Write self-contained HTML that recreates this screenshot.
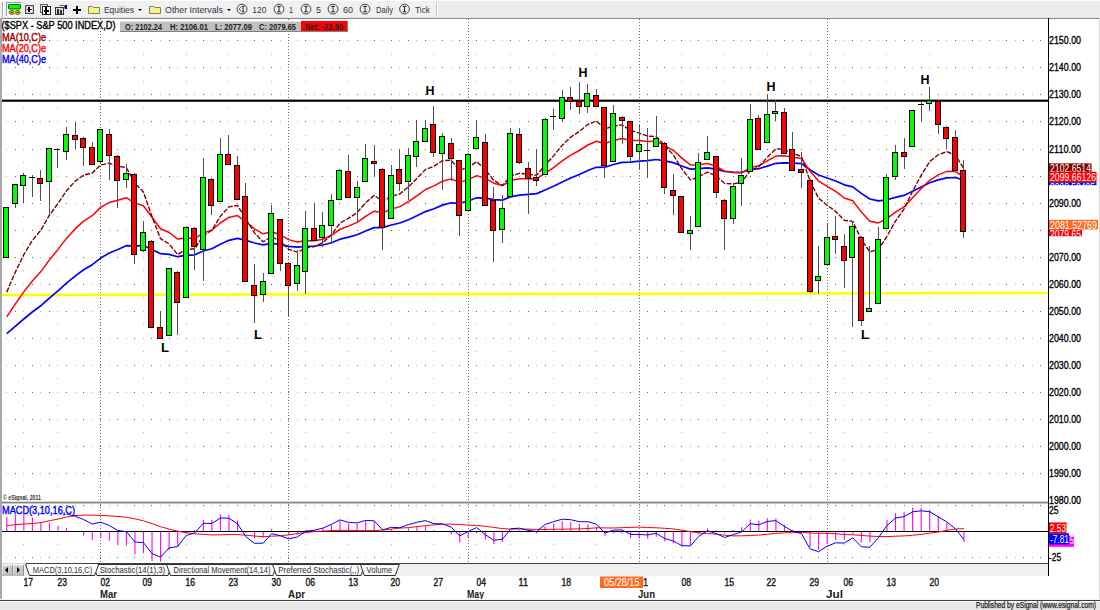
<!DOCTYPE html>
<html><head><meta charset="utf-8"><style>
html,body{margin:0;padding:0;background:#fff;overflow:hidden}
svg{display:block;font-family:"Liberation Sans", sans-serif}
</style></head><body>
<svg width="1100" height="610" viewBox="0 0 1100 610">
<rect x="0" y="0" width="1100" height="610" fill="#ffffff"/>
<rect x="0" y="0" width="1100" height="18" fill="#f0f0f0"/>
<rect x="436" y="0" width="664" height="18" fill="#ececec"/>
<rect x="0" y="0" width="1100" height="1" fill="#ffffff"/>
<rect x="0" y="17" width="1100" height="1" fill="#e4e4e4"/>
<rect x="0" y="18" width="1100" height="1" fill="#8a8a8a"/>
<rect x="436" y="2" width="1" height="15" fill="#c8c8c8"/>
<rect x="437" y="2" width="1" height="15" fill="#ffffff"/>
<rect x="0" y="18" width="2" height="592" fill="#a8a8a8"/>
<rect x="1099" y="18" width="1" height="582" fill="#d8d8d8"/>
<path d="M15 473h1 M32 473h1 M49 473h1 M66 473h1 M83 473h1 M100 473h1 M117 473h1 M134 473h1 M151 473h1 M169 473h1 M186 473h1 M203 473h1 M220 473h1 M237 473h1 M254 473h1 M271 473h1 M288 473h1 M305 473h1 M322 473h1 M339 473h1 M357 473h1 M374 473h1 M391 473h1 M408 473h1 M425 473h1 M442 473h1 M459 473h1 M476 473h1 M493 473h1 M510 473h1 M528 473h1 M545 473h1 M562 473h1 M579 473h1 M596 473h1 M613 473h1 M630 473h1 M647 473h1 M664 473h1 M681 473h1 M698 473h1 M716 473h1 M733 473h1 M750 473h1 M767 473h1 M784 473h1 M801 473h1 M818 473h1 M835 473h1 M852 473h1 M869 473h1 M886 473h1 M904 473h1 M921 473h1 M938 473h1 M955 473h1 M972 473h1 M989 473h1 M1006 473h1 M1023 473h1 M1040 473h1 M15 446h1 M32 446h1 M49 446h1 M66 446h1 M83 446h1 M100 446h1 M117 446h1 M134 446h1 M151 446h1 M169 446h1 M186 446h1 M203 446h1 M220 446h1 M237 446h1 M254 446h1 M271 446h1 M288 446h1 M305 446h1 M322 446h1 M339 446h1 M357 446h1 M374 446h1 M391 446h1 M408 446h1 M425 446h1 M442 446h1 M459 446h1 M476 446h1 M493 446h1 M510 446h1 M528 446h1 M545 446h1 M562 446h1 M579 446h1 M596 446h1 M613 446h1 M630 446h1 M647 446h1 M664 446h1 M681 446h1 M698 446h1 M716 446h1 M733 446h1 M750 446h1 M767 446h1 M784 446h1 M801 446h1 M818 446h1 M835 446h1 M852 446h1 M869 446h1 M886 446h1 M904 446h1 M921 446h1 M938 446h1 M955 446h1 M972 446h1 M989 446h1 M1006 446h1 M1023 446h1 M1040 446h1 M15 419h1 M32 419h1 M49 419h1 M66 419h1 M83 419h1 M100 419h1 M117 419h1 M134 419h1 M151 419h1 M169 419h1 M186 419h1 M203 419h1 M220 419h1 M237 419h1 M254 419h1 M271 419h1 M288 419h1 M305 419h1 M322 419h1 M339 419h1 M357 419h1 M374 419h1 M391 419h1 M408 419h1 M425 419h1 M442 419h1 M459 419h1 M476 419h1 M493 419h1 M510 419h1 M528 419h1 M545 419h1 M562 419h1 M579 419h1 M596 419h1 M613 419h1 M630 419h1 M647 419h1 M664 419h1 M681 419h1 M698 419h1 M716 419h1 M733 419h1 M750 419h1 M767 419h1 M784 419h1 M801 419h1 M818 419h1 M835 419h1 M852 419h1 M869 419h1 M886 419h1 M904 419h1 M921 419h1 M938 419h1 M955 419h1 M972 419h1 M989 419h1 M1006 419h1 M1023 419h1 M1040 419h1 M15 392h1 M32 392h1 M49 392h1 M66 392h1 M83 392h1 M100 392h1 M117 392h1 M134 392h1 M151 392h1 M169 392h1 M186 392h1 M203 392h1 M220 392h1 M237 392h1 M254 392h1 M271 392h1 M288 392h1 M305 392h1 M322 392h1 M339 392h1 M357 392h1 M374 392h1 M391 392h1 M408 392h1 M425 392h1 M442 392h1 M459 392h1 M476 392h1 M493 392h1 M510 392h1 M528 392h1 M545 392h1 M562 392h1 M579 392h1 M596 392h1 M613 392h1 M630 392h1 M647 392h1 M664 392h1 M681 392h1 M698 392h1 M716 392h1 M733 392h1 M750 392h1 M767 392h1 M784 392h1 M801 392h1 M818 392h1 M835 392h1 M852 392h1 M869 392h1 M886 392h1 M904 392h1 M921 392h1 M938 392h1 M955 392h1 M972 392h1 M989 392h1 M1006 392h1 M1023 392h1 M1040 392h1 M15 365h1 M32 365h1 M49 365h1 M66 365h1 M83 365h1 M100 365h1 M117 365h1 M134 365h1 M151 365h1 M169 365h1 M186 365h1 M203 365h1 M220 365h1 M237 365h1 M254 365h1 M271 365h1 M288 365h1 M305 365h1 M322 365h1 M339 365h1 M357 365h1 M374 365h1 M391 365h1 M408 365h1 M425 365h1 M442 365h1 M459 365h1 M476 365h1 M493 365h1 M510 365h1 M528 365h1 M545 365h1 M562 365h1 M579 365h1 M596 365h1 M613 365h1 M630 365h1 M647 365h1 M664 365h1 M681 365h1 M698 365h1 M716 365h1 M733 365h1 M750 365h1 M767 365h1 M784 365h1 M801 365h1 M818 365h1 M835 365h1 M852 365h1 M869 365h1 M886 365h1 M904 365h1 M921 365h1 M938 365h1 M955 365h1 M972 365h1 M989 365h1 M1006 365h1 M1023 365h1 M1040 365h1 M15 338h1 M32 338h1 M49 338h1 M66 338h1 M83 338h1 M100 338h1 M117 338h1 M134 338h1 M151 338h1 M169 338h1 M186 338h1 M203 338h1 M220 338h1 M237 338h1 M254 338h1 M271 338h1 M288 338h1 M305 338h1 M322 338h1 M339 338h1 M357 338h1 M374 338h1 M391 338h1 M408 338h1 M425 338h1 M442 338h1 M459 338h1 M476 338h1 M493 338h1 M510 338h1 M528 338h1 M545 338h1 M562 338h1 M579 338h1 M596 338h1 M613 338h1 M630 338h1 M647 338h1 M664 338h1 M681 338h1 M698 338h1 M716 338h1 M733 338h1 M750 338h1 M767 338h1 M784 338h1 M801 338h1 M818 338h1 M835 338h1 M852 338h1 M869 338h1 M886 338h1 M904 338h1 M921 338h1 M938 338h1 M955 338h1 M972 338h1 M989 338h1 M1006 338h1 M1023 338h1 M1040 338h1 M15 311h1 M32 311h1 M49 311h1 M66 311h1 M83 311h1 M100 311h1 M117 311h1 M134 311h1 M151 311h1 M169 311h1 M186 311h1 M203 311h1 M220 311h1 M237 311h1 M254 311h1 M271 311h1 M288 311h1 M305 311h1 M322 311h1 M339 311h1 M357 311h1 M374 311h1 M391 311h1 M408 311h1 M425 311h1 M442 311h1 M459 311h1 M476 311h1 M493 311h1 M510 311h1 M528 311h1 M545 311h1 M562 311h1 M579 311h1 M596 311h1 M613 311h1 M630 311h1 M647 311h1 M664 311h1 M681 311h1 M698 311h1 M716 311h1 M733 311h1 M750 311h1 M767 311h1 M784 311h1 M801 311h1 M818 311h1 M835 311h1 M852 311h1 M869 311h1 M886 311h1 M904 311h1 M921 311h1 M938 311h1 M955 311h1 M972 311h1 M989 311h1 M1006 311h1 M1023 311h1 M1040 311h1 M15 284h1 M32 284h1 M49 284h1 M66 284h1 M83 284h1 M100 284h1 M117 284h1 M134 284h1 M151 284h1 M169 284h1 M186 284h1 M203 284h1 M220 284h1 M237 284h1 M254 284h1 M271 284h1 M288 284h1 M305 284h1 M322 284h1 M339 284h1 M357 284h1 M374 284h1 M391 284h1 M408 284h1 M425 284h1 M442 284h1 M459 284h1 M476 284h1 M493 284h1 M510 284h1 M528 284h1 M545 284h1 M562 284h1 M579 284h1 M596 284h1 M613 284h1 M630 284h1 M647 284h1 M664 284h1 M681 284h1 M698 284h1 M716 284h1 M733 284h1 M750 284h1 M767 284h1 M784 284h1 M801 284h1 M818 284h1 M835 284h1 M852 284h1 M869 284h1 M886 284h1 M904 284h1 M921 284h1 M938 284h1 M955 284h1 M972 284h1 M989 284h1 M1006 284h1 M1023 284h1 M1040 284h1 M15 257h1 M32 257h1 M49 257h1 M66 257h1 M83 257h1 M100 257h1 M117 257h1 M134 257h1 M151 257h1 M169 257h1 M186 257h1 M203 257h1 M220 257h1 M237 257h1 M254 257h1 M271 257h1 M288 257h1 M305 257h1 M322 257h1 M339 257h1 M357 257h1 M374 257h1 M391 257h1 M408 257h1 M425 257h1 M442 257h1 M459 257h1 M476 257h1 M493 257h1 M510 257h1 M528 257h1 M545 257h1 M562 257h1 M579 257h1 M596 257h1 M613 257h1 M630 257h1 M647 257h1 M664 257h1 M681 257h1 M698 257h1 M716 257h1 M733 257h1 M750 257h1 M767 257h1 M784 257h1 M801 257h1 M818 257h1 M835 257h1 M852 257h1 M869 257h1 M886 257h1 M904 257h1 M921 257h1 M938 257h1 M955 257h1 M972 257h1 M989 257h1 M1006 257h1 M1023 257h1 M1040 257h1 M15 230h1 M32 230h1 M49 230h1 M66 230h1 M83 230h1 M100 230h1 M117 230h1 M134 230h1 M151 230h1 M169 230h1 M186 230h1 M203 230h1 M220 230h1 M237 230h1 M254 230h1 M271 230h1 M288 230h1 M305 230h1 M322 230h1 M339 230h1 M357 230h1 M374 230h1 M391 230h1 M408 230h1 M425 230h1 M442 230h1 M459 230h1 M476 230h1 M493 230h1 M510 230h1 M528 230h1 M545 230h1 M562 230h1 M579 230h1 M596 230h1 M613 230h1 M630 230h1 M647 230h1 M664 230h1 M681 230h1 M698 230h1 M716 230h1 M733 230h1 M750 230h1 M767 230h1 M784 230h1 M801 230h1 M818 230h1 M835 230h1 M852 230h1 M869 230h1 M886 230h1 M904 230h1 M921 230h1 M938 230h1 M955 230h1 M972 230h1 M989 230h1 M1006 230h1 M1023 230h1 M1040 230h1 M15 203h1 M32 203h1 M49 203h1 M66 203h1 M83 203h1 M100 203h1 M117 203h1 M134 203h1 M151 203h1 M169 203h1 M186 203h1 M203 203h1 M220 203h1 M237 203h1 M254 203h1 M271 203h1 M288 203h1 M305 203h1 M322 203h1 M339 203h1 M357 203h1 M374 203h1 M391 203h1 M408 203h1 M425 203h1 M442 203h1 M459 203h1 M476 203h1 M493 203h1 M510 203h1 M528 203h1 M545 203h1 M562 203h1 M579 203h1 M596 203h1 M613 203h1 M630 203h1 M647 203h1 M664 203h1 M681 203h1 M698 203h1 M716 203h1 M733 203h1 M750 203h1 M767 203h1 M784 203h1 M801 203h1 M818 203h1 M835 203h1 M852 203h1 M869 203h1 M886 203h1 M904 203h1 M921 203h1 M938 203h1 M955 203h1 M972 203h1 M989 203h1 M1006 203h1 M1023 203h1 M1040 203h1 M15 176h1 M32 176h1 M49 176h1 M66 176h1 M83 176h1 M100 176h1 M117 176h1 M134 176h1 M151 176h1 M169 176h1 M186 176h1 M203 176h1 M220 176h1 M237 176h1 M254 176h1 M271 176h1 M288 176h1 M305 176h1 M322 176h1 M339 176h1 M357 176h1 M374 176h1 M391 176h1 M408 176h1 M425 176h1 M442 176h1 M459 176h1 M476 176h1 M493 176h1 M510 176h1 M528 176h1 M545 176h1 M562 176h1 M579 176h1 M596 176h1 M613 176h1 M630 176h1 M647 176h1 M664 176h1 M681 176h1 M698 176h1 M716 176h1 M733 176h1 M750 176h1 M767 176h1 M784 176h1 M801 176h1 M818 176h1 M835 176h1 M852 176h1 M869 176h1 M886 176h1 M904 176h1 M921 176h1 M938 176h1 M955 176h1 M972 176h1 M989 176h1 M1006 176h1 M1023 176h1 M1040 176h1 M15 149h1 M32 149h1 M49 149h1 M66 149h1 M83 149h1 M100 149h1 M117 149h1 M134 149h1 M151 149h1 M169 149h1 M186 149h1 M203 149h1 M220 149h1 M237 149h1 M254 149h1 M271 149h1 M288 149h1 M305 149h1 M322 149h1 M339 149h1 M357 149h1 M374 149h1 M391 149h1 M408 149h1 M425 149h1 M442 149h1 M459 149h1 M476 149h1 M493 149h1 M510 149h1 M528 149h1 M545 149h1 M562 149h1 M579 149h1 M596 149h1 M613 149h1 M630 149h1 M647 149h1 M664 149h1 M681 149h1 M698 149h1 M716 149h1 M733 149h1 M750 149h1 M767 149h1 M784 149h1 M801 149h1 M818 149h1 M835 149h1 M852 149h1 M869 149h1 M886 149h1 M904 149h1 M921 149h1 M938 149h1 M955 149h1 M972 149h1 M989 149h1 M1006 149h1 M1023 149h1 M1040 149h1 M15 121h1 M32 121h1 M49 121h1 M66 121h1 M83 121h1 M100 121h1 M117 121h1 M134 121h1 M151 121h1 M169 121h1 M186 121h1 M203 121h1 M220 121h1 M237 121h1 M254 121h1 M271 121h1 M288 121h1 M305 121h1 M322 121h1 M339 121h1 M357 121h1 M374 121h1 M391 121h1 M408 121h1 M425 121h1 M442 121h1 M459 121h1 M476 121h1 M493 121h1 M510 121h1 M528 121h1 M545 121h1 M562 121h1 M579 121h1 M596 121h1 M613 121h1 M630 121h1 M647 121h1 M664 121h1 M681 121h1 M698 121h1 M716 121h1 M733 121h1 M750 121h1 M767 121h1 M784 121h1 M801 121h1 M818 121h1 M835 121h1 M852 121h1 M869 121h1 M886 121h1 M904 121h1 M921 121h1 M938 121h1 M955 121h1 M972 121h1 M989 121h1 M1006 121h1 M1023 121h1 M1040 121h1 M15 94h1 M32 94h1 M49 94h1 M66 94h1 M83 94h1 M100 94h1 M117 94h1 M134 94h1 M151 94h1 M169 94h1 M186 94h1 M203 94h1 M220 94h1 M237 94h1 M254 94h1 M271 94h1 M288 94h1 M305 94h1 M322 94h1 M339 94h1 M357 94h1 M374 94h1 M391 94h1 M408 94h1 M425 94h1 M442 94h1 M459 94h1 M476 94h1 M493 94h1 M510 94h1 M528 94h1 M545 94h1 M562 94h1 M579 94h1 M596 94h1 M613 94h1 M630 94h1 M647 94h1 M664 94h1 M681 94h1 M698 94h1 M716 94h1 M733 94h1 M750 94h1 M767 94h1 M784 94h1 M801 94h1 M818 94h1 M835 94h1 M852 94h1 M869 94h1 M886 94h1 M904 94h1 M921 94h1 M938 94h1 M955 94h1 M972 94h1 M989 94h1 M1006 94h1 M1023 94h1 M1040 94h1 M15 67h1 M32 67h1 M49 67h1 M66 67h1 M83 67h1 M100 67h1 M117 67h1 M134 67h1 M151 67h1 M169 67h1 M186 67h1 M203 67h1 M220 67h1 M237 67h1 M254 67h1 M271 67h1 M288 67h1 M305 67h1 M322 67h1 M339 67h1 M357 67h1 M374 67h1 M391 67h1 M408 67h1 M425 67h1 M442 67h1 M459 67h1 M476 67h1 M493 67h1 M510 67h1 M528 67h1 M545 67h1 M562 67h1 M579 67h1 M596 67h1 M613 67h1 M630 67h1 M647 67h1 M664 67h1 M681 67h1 M698 67h1 M716 67h1 M733 67h1 M750 67h1 M767 67h1 M784 67h1 M801 67h1 M818 67h1 M835 67h1 M852 67h1 M869 67h1 M886 67h1 M904 67h1 M921 67h1 M938 67h1 M955 67h1 M972 67h1 M989 67h1 M1006 67h1 M1023 67h1 M1040 67h1 M15 40h1 M32 40h1 M49 40h1 M66 40h1 M83 40h1 M100 40h1 M117 40h1 M134 40h1 M151 40h1 M169 40h1 M186 40h1 M203 40h1 M220 40h1 M237 40h1 M254 40h1 M271 40h1 M288 40h1 M305 40h1 M322 40h1 M339 40h1 M357 40h1 M374 40h1 M391 40h1 M408 40h1 M425 40h1 M442 40h1 M459 40h1 M476 40h1 M493 40h1 M510 40h1 M528 40h1 M545 40h1 M562 40h1 M579 40h1 M596 40h1 M613 40h1 M630 40h1 M647 40h1 M664 40h1 M681 40h1 M698 40h1 M716 40h1 M733 40h1 M750 40h1 M767 40h1 M784 40h1 M801 40h1 M818 40h1 M835 40h1 M852 40h1 M869 40h1 M886 40h1 M904 40h1 M921 40h1 M938 40h1 M955 40h1 M972 40h1 M989 40h1 M1006 40h1 M1023 40h1 M1040 40h1 M15 505h1 M32 505h1 M49 505h1 M66 505h1 M83 505h1 M100 505h1 M117 505h1 M134 505h1 M151 505h1 M169 505h1 M186 505h1 M203 505h1 M220 505h1 M237 505h1 M254 505h1 M271 505h1 M288 505h1 M305 505h1 M322 505h1 M339 505h1 M357 505h1 M374 505h1 M391 505h1 M408 505h1 M425 505h1 M442 505h1 M459 505h1 M476 505h1 M493 505h1 M510 505h1 M528 505h1 M545 505h1 M562 505h1 M579 505h1 M596 505h1 M613 505h1 M630 505h1 M647 505h1 M664 505h1 M681 505h1 M698 505h1 M716 505h1 M733 505h1 M750 505h1 M767 505h1 M784 505h1 M801 505h1 M818 505h1 M835 505h1 M852 505h1 M869 505h1 M886 505h1 M904 505h1 M921 505h1 M938 505h1 M955 505h1 M972 505h1 M989 505h1 M1006 505h1 M1023 505h1 M1040 505h1 M15 557h1 M32 557h1 M49 557h1 M66 557h1 M83 557h1 M100 557h1 M117 557h1 M134 557h1 M151 557h1 M169 557h1 M186 557h1 M203 557h1 M220 557h1 M237 557h1 M254 557h1 M271 557h1 M288 557h1 M305 557h1 M322 557h1 M339 557h1 M357 557h1 M374 557h1 M391 557h1 M408 557h1 M425 557h1 M442 557h1 M459 557h1 M476 557h1 M493 557h1 M510 557h1 M528 557h1 M545 557h1 M562 557h1 M579 557h1 M596 557h1 M613 557h1 M630 557h1 M647 557h1 M664 557h1 M681 557h1 M698 557h1 M716 557h1 M733 557h1 M750 557h1 M767 557h1 M784 557h1 M801 557h1 M818 557h1 M835 557h1 M852 557h1 M869 557h1 M886 557h1 M904 557h1 M921 557h1 M938 557h1 M955 557h1 M972 557h1 M989 557h1 M1006 557h1 M1023 557h1 M1040 557h1" stroke="#646464" stroke-width="1" fill="none" transform="translate(0,0.5)" shape-rendering="crispEdges"/>
<path d="M6 473h1 M23 473h1 M40 473h1 M57 473h1 M75 473h1 M92 473h1 M109 473h1 M126 473h1 M143 473h1 M160 473h1 M177 473h1 M194 473h1 M211 473h1 M228 473h1 M245 473h1 M263 473h1 M280 473h1 M297 473h1 M314 473h1 M331 473h1 M348 473h1 M365 473h1 M382 473h1 M399 473h1 M416 473h1 M433 473h1 M451 473h1 M468 473h1 M485 473h1 M502 473h1 M519 473h1 M536 473h1 M553 473h1 M570 473h1 M587 473h1 M604 473h1 M622 473h1 M639 473h1 M656 473h1 M673 473h1 M690 473h1 M707 473h1 M724 473h1 M741 473h1 M758 473h1 M775 473h1 M792 473h1 M810 473h1 M827 473h1 M844 473h1 M861 473h1 M878 473h1 M895 473h1 M912 473h1 M929 473h1 M946 473h1 M963 473h1 M980 473h1 M998 473h1 M1015 473h1 M1032 473h1 M6 446h1 M23 446h1 M40 446h1 M57 446h1 M75 446h1 M92 446h1 M109 446h1 M126 446h1 M143 446h1 M160 446h1 M177 446h1 M194 446h1 M211 446h1 M228 446h1 M245 446h1 M263 446h1 M280 446h1 M297 446h1 M314 446h1 M331 446h1 M348 446h1 M365 446h1 M382 446h1 M399 446h1 M416 446h1 M433 446h1 M451 446h1 M468 446h1 M485 446h1 M502 446h1 M519 446h1 M536 446h1 M553 446h1 M570 446h1 M587 446h1 M604 446h1 M622 446h1 M639 446h1 M656 446h1 M673 446h1 M690 446h1 M707 446h1 M724 446h1 M741 446h1 M758 446h1 M775 446h1 M792 446h1 M810 446h1 M827 446h1 M844 446h1 M861 446h1 M878 446h1 M895 446h1 M912 446h1 M929 446h1 M946 446h1 M963 446h1 M980 446h1 M998 446h1 M1015 446h1 M1032 446h1 M6 419h1 M23 419h1 M40 419h1 M57 419h1 M75 419h1 M92 419h1 M109 419h1 M126 419h1 M143 419h1 M160 419h1 M177 419h1 M194 419h1 M211 419h1 M228 419h1 M245 419h1 M263 419h1 M280 419h1 M297 419h1 M314 419h1 M331 419h1 M348 419h1 M365 419h1 M382 419h1 M399 419h1 M416 419h1 M433 419h1 M451 419h1 M468 419h1 M485 419h1 M502 419h1 M519 419h1 M536 419h1 M553 419h1 M570 419h1 M587 419h1 M604 419h1 M622 419h1 M639 419h1 M656 419h1 M673 419h1 M690 419h1 M707 419h1 M724 419h1 M741 419h1 M758 419h1 M775 419h1 M792 419h1 M810 419h1 M827 419h1 M844 419h1 M861 419h1 M878 419h1 M895 419h1 M912 419h1 M929 419h1 M946 419h1 M963 419h1 M980 419h1 M998 419h1 M1015 419h1 M1032 419h1 M6 392h1 M23 392h1 M40 392h1 M57 392h1 M75 392h1 M92 392h1 M109 392h1 M126 392h1 M143 392h1 M160 392h1 M177 392h1 M194 392h1 M211 392h1 M228 392h1 M245 392h1 M263 392h1 M280 392h1 M297 392h1 M314 392h1 M331 392h1 M348 392h1 M365 392h1 M382 392h1 M399 392h1 M416 392h1 M433 392h1 M451 392h1 M468 392h1 M485 392h1 M502 392h1 M519 392h1 M536 392h1 M553 392h1 M570 392h1 M587 392h1 M604 392h1 M622 392h1 M639 392h1 M656 392h1 M673 392h1 M690 392h1 M707 392h1 M724 392h1 M741 392h1 M758 392h1 M775 392h1 M792 392h1 M810 392h1 M827 392h1 M844 392h1 M861 392h1 M878 392h1 M895 392h1 M912 392h1 M929 392h1 M946 392h1 M963 392h1 M980 392h1 M998 392h1 M1015 392h1 M1032 392h1 M6 365h1 M23 365h1 M40 365h1 M57 365h1 M75 365h1 M92 365h1 M109 365h1 M126 365h1 M143 365h1 M160 365h1 M177 365h1 M194 365h1 M211 365h1 M228 365h1 M245 365h1 M263 365h1 M280 365h1 M297 365h1 M314 365h1 M331 365h1 M348 365h1 M365 365h1 M382 365h1 M399 365h1 M416 365h1 M433 365h1 M451 365h1 M468 365h1 M485 365h1 M502 365h1 M519 365h1 M536 365h1 M553 365h1 M570 365h1 M587 365h1 M604 365h1 M622 365h1 M639 365h1 M656 365h1 M673 365h1 M690 365h1 M707 365h1 M724 365h1 M741 365h1 M758 365h1 M775 365h1 M792 365h1 M810 365h1 M827 365h1 M844 365h1 M861 365h1 M878 365h1 M895 365h1 M912 365h1 M929 365h1 M946 365h1 M963 365h1 M980 365h1 M998 365h1 M1015 365h1 M1032 365h1 M6 338h1 M23 338h1 M40 338h1 M57 338h1 M75 338h1 M92 338h1 M109 338h1 M126 338h1 M143 338h1 M160 338h1 M177 338h1 M194 338h1 M211 338h1 M228 338h1 M245 338h1 M263 338h1 M280 338h1 M297 338h1 M314 338h1 M331 338h1 M348 338h1 M365 338h1 M382 338h1 M399 338h1 M416 338h1 M433 338h1 M451 338h1 M468 338h1 M485 338h1 M502 338h1 M519 338h1 M536 338h1 M553 338h1 M570 338h1 M587 338h1 M604 338h1 M622 338h1 M639 338h1 M656 338h1 M673 338h1 M690 338h1 M707 338h1 M724 338h1 M741 338h1 M758 338h1 M775 338h1 M792 338h1 M810 338h1 M827 338h1 M844 338h1 M861 338h1 M878 338h1 M895 338h1 M912 338h1 M929 338h1 M946 338h1 M963 338h1 M980 338h1 M998 338h1 M1015 338h1 M1032 338h1 M6 311h1 M23 311h1 M40 311h1 M57 311h1 M75 311h1 M92 311h1 M109 311h1 M126 311h1 M143 311h1 M160 311h1 M177 311h1 M194 311h1 M211 311h1 M228 311h1 M245 311h1 M263 311h1 M280 311h1 M297 311h1 M314 311h1 M331 311h1 M348 311h1 M365 311h1 M382 311h1 M399 311h1 M416 311h1 M433 311h1 M451 311h1 M468 311h1 M485 311h1 M502 311h1 M519 311h1 M536 311h1 M553 311h1 M570 311h1 M587 311h1 M604 311h1 M622 311h1 M639 311h1 M656 311h1 M673 311h1 M690 311h1 M707 311h1 M724 311h1 M741 311h1 M758 311h1 M775 311h1 M792 311h1 M810 311h1 M827 311h1 M844 311h1 M861 311h1 M878 311h1 M895 311h1 M912 311h1 M929 311h1 M946 311h1 M963 311h1 M980 311h1 M998 311h1 M1015 311h1 M1032 311h1 M6 284h1 M23 284h1 M40 284h1 M57 284h1 M75 284h1 M92 284h1 M109 284h1 M126 284h1 M143 284h1 M160 284h1 M177 284h1 M194 284h1 M211 284h1 M228 284h1 M245 284h1 M263 284h1 M280 284h1 M297 284h1 M314 284h1 M331 284h1 M348 284h1 M365 284h1 M382 284h1 M399 284h1 M416 284h1 M433 284h1 M451 284h1 M468 284h1 M485 284h1 M502 284h1 M519 284h1 M536 284h1 M553 284h1 M570 284h1 M587 284h1 M604 284h1 M622 284h1 M639 284h1 M656 284h1 M673 284h1 M690 284h1 M707 284h1 M724 284h1 M741 284h1 M758 284h1 M775 284h1 M792 284h1 M810 284h1 M827 284h1 M844 284h1 M861 284h1 M878 284h1 M895 284h1 M912 284h1 M929 284h1 M946 284h1 M963 284h1 M980 284h1 M998 284h1 M1015 284h1 M1032 284h1 M6 257h1 M23 257h1 M40 257h1 M57 257h1 M75 257h1 M92 257h1 M109 257h1 M126 257h1 M143 257h1 M160 257h1 M177 257h1 M194 257h1 M211 257h1 M228 257h1 M245 257h1 M263 257h1 M280 257h1 M297 257h1 M314 257h1 M331 257h1 M348 257h1 M365 257h1 M382 257h1 M399 257h1 M416 257h1 M433 257h1 M451 257h1 M468 257h1 M485 257h1 M502 257h1 M519 257h1 M536 257h1 M553 257h1 M570 257h1 M587 257h1 M604 257h1 M622 257h1 M639 257h1 M656 257h1 M673 257h1 M690 257h1 M707 257h1 M724 257h1 M741 257h1 M758 257h1 M775 257h1 M792 257h1 M810 257h1 M827 257h1 M844 257h1 M861 257h1 M878 257h1 M895 257h1 M912 257h1 M929 257h1 M946 257h1 M963 257h1 M980 257h1 M998 257h1 M1015 257h1 M1032 257h1 M6 230h1 M23 230h1 M40 230h1 M57 230h1 M75 230h1 M92 230h1 M109 230h1 M126 230h1 M143 230h1 M160 230h1 M177 230h1 M194 230h1 M211 230h1 M228 230h1 M245 230h1 M263 230h1 M280 230h1 M297 230h1 M314 230h1 M331 230h1 M348 230h1 M365 230h1 M382 230h1 M399 230h1 M416 230h1 M433 230h1 M451 230h1 M468 230h1 M485 230h1 M502 230h1 M519 230h1 M536 230h1 M553 230h1 M570 230h1 M587 230h1 M604 230h1 M622 230h1 M639 230h1 M656 230h1 M673 230h1 M690 230h1 M707 230h1 M724 230h1 M741 230h1 M758 230h1 M775 230h1 M792 230h1 M810 230h1 M827 230h1 M844 230h1 M861 230h1 M878 230h1 M895 230h1 M912 230h1 M929 230h1 M946 230h1 M963 230h1 M980 230h1 M998 230h1 M1015 230h1 M1032 230h1 M6 203h1 M23 203h1 M40 203h1 M57 203h1 M75 203h1 M92 203h1 M109 203h1 M126 203h1 M143 203h1 M160 203h1 M177 203h1 M194 203h1 M211 203h1 M228 203h1 M245 203h1 M263 203h1 M280 203h1 M297 203h1 M314 203h1 M331 203h1 M348 203h1 M365 203h1 M382 203h1 M399 203h1 M416 203h1 M433 203h1 M451 203h1 M468 203h1 M485 203h1 M502 203h1 M519 203h1 M536 203h1 M553 203h1 M570 203h1 M587 203h1 M604 203h1 M622 203h1 M639 203h1 M656 203h1 M673 203h1 M690 203h1 M707 203h1 M724 203h1 M741 203h1 M758 203h1 M775 203h1 M792 203h1 M810 203h1 M827 203h1 M844 203h1 M861 203h1 M878 203h1 M895 203h1 M912 203h1 M929 203h1 M946 203h1 M963 203h1 M980 203h1 M998 203h1 M1015 203h1 M1032 203h1 M6 176h1 M23 176h1 M40 176h1 M57 176h1 M75 176h1 M92 176h1 M109 176h1 M126 176h1 M143 176h1 M160 176h1 M177 176h1 M194 176h1 M211 176h1 M228 176h1 M245 176h1 M263 176h1 M280 176h1 M297 176h1 M314 176h1 M331 176h1 M348 176h1 M365 176h1 M382 176h1 M399 176h1 M416 176h1 M433 176h1 M451 176h1 M468 176h1 M485 176h1 M502 176h1 M519 176h1 M536 176h1 M553 176h1 M570 176h1 M587 176h1 M604 176h1 M622 176h1 M639 176h1 M656 176h1 M673 176h1 M690 176h1 M707 176h1 M724 176h1 M741 176h1 M758 176h1 M775 176h1 M792 176h1 M810 176h1 M827 176h1 M844 176h1 M861 176h1 M878 176h1 M895 176h1 M912 176h1 M929 176h1 M946 176h1 M963 176h1 M980 176h1 M998 176h1 M1015 176h1 M1032 176h1 M6 149h1 M23 149h1 M40 149h1 M57 149h1 M75 149h1 M92 149h1 M109 149h1 M126 149h1 M143 149h1 M160 149h1 M177 149h1 M194 149h1 M211 149h1 M228 149h1 M245 149h1 M263 149h1 M280 149h1 M297 149h1 M314 149h1 M331 149h1 M348 149h1 M365 149h1 M382 149h1 M399 149h1 M416 149h1 M433 149h1 M451 149h1 M468 149h1 M485 149h1 M502 149h1 M519 149h1 M536 149h1 M553 149h1 M570 149h1 M587 149h1 M604 149h1 M622 149h1 M639 149h1 M656 149h1 M673 149h1 M690 149h1 M707 149h1 M724 149h1 M741 149h1 M758 149h1 M775 149h1 M792 149h1 M810 149h1 M827 149h1 M844 149h1 M861 149h1 M878 149h1 M895 149h1 M912 149h1 M929 149h1 M946 149h1 M963 149h1 M980 149h1 M998 149h1 M1015 149h1 M1032 149h1 M6 121h1 M23 121h1 M40 121h1 M57 121h1 M75 121h1 M92 121h1 M109 121h1 M126 121h1 M143 121h1 M160 121h1 M177 121h1 M194 121h1 M211 121h1 M228 121h1 M245 121h1 M263 121h1 M280 121h1 M297 121h1 M314 121h1 M331 121h1 M348 121h1 M365 121h1 M382 121h1 M399 121h1 M416 121h1 M433 121h1 M451 121h1 M468 121h1 M485 121h1 M502 121h1 M519 121h1 M536 121h1 M553 121h1 M570 121h1 M587 121h1 M604 121h1 M622 121h1 M639 121h1 M656 121h1 M673 121h1 M690 121h1 M707 121h1 M724 121h1 M741 121h1 M758 121h1 M775 121h1 M792 121h1 M810 121h1 M827 121h1 M844 121h1 M861 121h1 M878 121h1 M895 121h1 M912 121h1 M929 121h1 M946 121h1 M963 121h1 M980 121h1 M998 121h1 M1015 121h1 M1032 121h1 M6 94h1 M23 94h1 M40 94h1 M57 94h1 M75 94h1 M92 94h1 M109 94h1 M126 94h1 M143 94h1 M160 94h1 M177 94h1 M194 94h1 M211 94h1 M228 94h1 M245 94h1 M263 94h1 M280 94h1 M297 94h1 M314 94h1 M331 94h1 M348 94h1 M365 94h1 M382 94h1 M399 94h1 M416 94h1 M433 94h1 M451 94h1 M468 94h1 M485 94h1 M502 94h1 M519 94h1 M536 94h1 M553 94h1 M570 94h1 M587 94h1 M604 94h1 M622 94h1 M639 94h1 M656 94h1 M673 94h1 M690 94h1 M707 94h1 M724 94h1 M741 94h1 M758 94h1 M775 94h1 M792 94h1 M810 94h1 M827 94h1 M844 94h1 M861 94h1 M878 94h1 M895 94h1 M912 94h1 M929 94h1 M946 94h1 M963 94h1 M980 94h1 M998 94h1 M1015 94h1 M1032 94h1 M6 67h1 M23 67h1 M40 67h1 M57 67h1 M75 67h1 M92 67h1 M109 67h1 M126 67h1 M143 67h1 M160 67h1 M177 67h1 M194 67h1 M211 67h1 M228 67h1 M245 67h1 M263 67h1 M280 67h1 M297 67h1 M314 67h1 M331 67h1 M348 67h1 M365 67h1 M382 67h1 M399 67h1 M416 67h1 M433 67h1 M451 67h1 M468 67h1 M485 67h1 M502 67h1 M519 67h1 M536 67h1 M553 67h1 M570 67h1 M587 67h1 M604 67h1 M622 67h1 M639 67h1 M656 67h1 M673 67h1 M690 67h1 M707 67h1 M724 67h1 M741 67h1 M758 67h1 M775 67h1 M792 67h1 M810 67h1 M827 67h1 M844 67h1 M861 67h1 M878 67h1 M895 67h1 M912 67h1 M929 67h1 M946 67h1 M963 67h1 M980 67h1 M998 67h1 M1015 67h1 M1032 67h1 M6 40h1 M23 40h1 M40 40h1 M57 40h1 M75 40h1 M92 40h1 M109 40h1 M126 40h1 M143 40h1 M160 40h1 M177 40h1 M194 40h1 M211 40h1 M228 40h1 M245 40h1 M263 40h1 M280 40h1 M297 40h1 M314 40h1 M331 40h1 M348 40h1 M365 40h1 M382 40h1 M399 40h1 M416 40h1 M433 40h1 M451 40h1 M468 40h1 M485 40h1 M502 40h1 M519 40h1 M536 40h1 M553 40h1 M570 40h1 M587 40h1 M604 40h1 M622 40h1 M639 40h1 M656 40h1 M673 40h1 M690 40h1 M707 40h1 M724 40h1 M741 40h1 M758 40h1 M775 40h1 M792 40h1 M810 40h1 M827 40h1 M844 40h1 M861 40h1 M878 40h1 M895 40h1 M912 40h1 M929 40h1 M946 40h1 M963 40h1 M980 40h1 M998 40h1 M1015 40h1 M1032 40h1 M23 486h1 M57 486h1 M100 486h1 M143 486h1 M186 486h1 M228 486h1 M271 486h1 M305 486h1 M348 486h1 M391 486h1 M433 486h1 M476 486h1 M510 486h1 M553 486h1 M596 486h1 M639 486h1 M681 486h1 M724 486h1 M767 486h1 M810 486h1 M844 486h1 M886 486h1 M929 486h1 M23 459h1 M57 459h1 M100 459h1 M143 459h1 M186 459h1 M228 459h1 M271 459h1 M305 459h1 M348 459h1 M391 459h1 M433 459h1 M476 459h1 M510 459h1 M553 459h1 M596 459h1 M639 459h1 M681 459h1 M724 459h1 M767 459h1 M810 459h1 M844 459h1 M886 459h1 M929 459h1 M23 432h1 M57 432h1 M100 432h1 M143 432h1 M186 432h1 M228 432h1 M271 432h1 M305 432h1 M348 432h1 M391 432h1 M433 432h1 M476 432h1 M510 432h1 M553 432h1 M596 432h1 M639 432h1 M681 432h1 M724 432h1 M767 432h1 M810 432h1 M844 432h1 M886 432h1 M929 432h1 M23 405h1 M57 405h1 M100 405h1 M143 405h1 M186 405h1 M228 405h1 M271 405h1 M305 405h1 M348 405h1 M391 405h1 M433 405h1 M476 405h1 M510 405h1 M553 405h1 M596 405h1 M639 405h1 M681 405h1 M724 405h1 M767 405h1 M810 405h1 M844 405h1 M886 405h1 M929 405h1 M23 378h1 M57 378h1 M100 378h1 M143 378h1 M186 378h1 M228 378h1 M271 378h1 M305 378h1 M348 378h1 M391 378h1 M433 378h1 M476 378h1 M510 378h1 M553 378h1 M596 378h1 M639 378h1 M681 378h1 M724 378h1 M767 378h1 M810 378h1 M844 378h1 M886 378h1 M929 378h1 M23 351h1 M57 351h1 M100 351h1 M143 351h1 M186 351h1 M228 351h1 M271 351h1 M305 351h1 M348 351h1 M391 351h1 M433 351h1 M476 351h1 M510 351h1 M553 351h1 M596 351h1 M639 351h1 M681 351h1 M724 351h1 M767 351h1 M810 351h1 M844 351h1 M886 351h1 M929 351h1 M23 324h1 M57 324h1 M100 324h1 M143 324h1 M186 324h1 M228 324h1 M271 324h1 M305 324h1 M348 324h1 M391 324h1 M433 324h1 M476 324h1 M510 324h1 M553 324h1 M596 324h1 M639 324h1 M681 324h1 M724 324h1 M767 324h1 M810 324h1 M844 324h1 M886 324h1 M929 324h1 M23 297h1 M57 297h1 M100 297h1 M143 297h1 M186 297h1 M228 297h1 M271 297h1 M305 297h1 M348 297h1 M391 297h1 M433 297h1 M476 297h1 M510 297h1 M553 297h1 M596 297h1 M639 297h1 M681 297h1 M724 297h1 M767 297h1 M810 297h1 M844 297h1 M886 297h1 M929 297h1 M23 270h1 M57 270h1 M100 270h1 M143 270h1 M186 270h1 M228 270h1 M271 270h1 M305 270h1 M348 270h1 M391 270h1 M433 270h1 M476 270h1 M510 270h1 M553 270h1 M596 270h1 M639 270h1 M681 270h1 M724 270h1 M767 270h1 M810 270h1 M844 270h1 M886 270h1 M929 270h1 M23 243h1 M57 243h1 M100 243h1 M143 243h1 M186 243h1 M228 243h1 M271 243h1 M305 243h1 M348 243h1 M391 243h1 M433 243h1 M476 243h1 M510 243h1 M553 243h1 M596 243h1 M639 243h1 M681 243h1 M724 243h1 M767 243h1 M810 243h1 M844 243h1 M886 243h1 M929 243h1 M23 216h1 M57 216h1 M100 216h1 M143 216h1 M186 216h1 M228 216h1 M271 216h1 M305 216h1 M348 216h1 M391 216h1 M433 216h1 M476 216h1 M510 216h1 M553 216h1 M596 216h1 M639 216h1 M681 216h1 M724 216h1 M767 216h1 M810 216h1 M844 216h1 M886 216h1 M929 216h1 M23 189h1 M57 189h1 M100 189h1 M143 189h1 M186 189h1 M228 189h1 M271 189h1 M305 189h1 M348 189h1 M391 189h1 M433 189h1 M476 189h1 M510 189h1 M553 189h1 M596 189h1 M639 189h1 M681 189h1 M724 189h1 M767 189h1 M810 189h1 M844 189h1 M886 189h1 M929 189h1 M23 162h1 M57 162h1 M100 162h1 M143 162h1 M186 162h1 M228 162h1 M271 162h1 M305 162h1 M348 162h1 M391 162h1 M433 162h1 M476 162h1 M510 162h1 M553 162h1 M596 162h1 M639 162h1 M681 162h1 M724 162h1 M767 162h1 M810 162h1 M844 162h1 M886 162h1 M929 162h1 M23 135h1 M57 135h1 M100 135h1 M143 135h1 M186 135h1 M228 135h1 M271 135h1 M305 135h1 M348 135h1 M391 135h1 M433 135h1 M476 135h1 M510 135h1 M553 135h1 M596 135h1 M639 135h1 M681 135h1 M724 135h1 M767 135h1 M810 135h1 M844 135h1 M886 135h1 M929 135h1 M23 108h1 M57 108h1 M100 108h1 M143 108h1 M186 108h1 M228 108h1 M271 108h1 M305 108h1 M348 108h1 M391 108h1 M433 108h1 M476 108h1 M510 108h1 M553 108h1 M596 108h1 M639 108h1 M681 108h1 M724 108h1 M767 108h1 M810 108h1 M844 108h1 M886 108h1 M929 108h1 M23 81h1 M57 81h1 M100 81h1 M143 81h1 M186 81h1 M228 81h1 M271 81h1 M305 81h1 M348 81h1 M391 81h1 M433 81h1 M476 81h1 M510 81h1 M553 81h1 M596 81h1 M639 81h1 M681 81h1 M724 81h1 M767 81h1 M810 81h1 M844 81h1 M886 81h1 M929 81h1 M23 54h1 M57 54h1 M100 54h1 M143 54h1 M186 54h1 M228 54h1 M271 54h1 M305 54h1 M348 54h1 M391 54h1 M433 54h1 M476 54h1 M510 54h1 M553 54h1 M596 54h1 M639 54h1 M681 54h1 M724 54h1 M767 54h1 M810 54h1 M844 54h1 M886 54h1 M929 54h1 M6 505h1 M23 505h1 M40 505h1 M57 505h1 M75 505h1 M92 505h1 M109 505h1 M126 505h1 M143 505h1 M160 505h1 M177 505h1 M194 505h1 M211 505h1 M228 505h1 M245 505h1 M263 505h1 M280 505h1 M297 505h1 M314 505h1 M331 505h1 M348 505h1 M365 505h1 M382 505h1 M399 505h1 M416 505h1 M433 505h1 M451 505h1 M468 505h1 M485 505h1 M502 505h1 M519 505h1 M536 505h1 M553 505h1 M570 505h1 M587 505h1 M604 505h1 M622 505h1 M639 505h1 M656 505h1 M673 505h1 M690 505h1 M707 505h1 M724 505h1 M741 505h1 M758 505h1 M775 505h1 M792 505h1 M810 505h1 M827 505h1 M844 505h1 M861 505h1 M878 505h1 M895 505h1 M912 505h1 M929 505h1 M946 505h1 M963 505h1 M980 505h1 M998 505h1 M1015 505h1 M1032 505h1 M6 557h1 M23 557h1 M40 557h1 M57 557h1 M75 557h1 M92 557h1 M109 557h1 M126 557h1 M143 557h1 M160 557h1 M177 557h1 M194 557h1 M211 557h1 M228 557h1 M245 557h1 M263 557h1 M280 557h1 M297 557h1 M314 557h1 M331 557h1 M348 557h1 M365 557h1 M382 557h1 M399 557h1 M416 557h1 M433 557h1 M451 557h1 M468 557h1 M485 557h1 M502 557h1 M519 557h1 M536 557h1 M553 557h1 M570 557h1 M587 557h1 M604 557h1 M622 557h1 M639 557h1 M656 557h1 M673 557h1 M690 557h1 M707 557h1 M724 557h1 M741 557h1 M758 557h1 M775 557h1 M792 557h1 M810 557h1 M827 557h1 M844 557h1 M861 557h1 M878 557h1 M895 557h1 M912 557h1 M929 557h1 M946 557h1 M963 557h1 M980 557h1 M998 557h1 M1015 557h1 M1032 557h1 M23 518h1 M57 518h1 M100 518h1 M143 518h1 M186 518h1 M228 518h1 M271 518h1 M305 518h1 M348 518h1 M391 518h1 M433 518h1 M476 518h1 M510 518h1 M553 518h1 M596 518h1 M639 518h1 M681 518h1 M724 518h1 M767 518h1 M810 518h1 M844 518h1 M886 518h1 M929 518h1 M23 544h1 M57 544h1 M100 544h1 M143 544h1 M186 544h1 M228 544h1 M271 544h1 M305 544h1 M348 544h1 M391 544h1 M433 544h1 M476 544h1 M510 544h1 M553 544h1 M596 544h1 M639 544h1 M681 544h1 M724 544h1 M767 544h1 M810 544h1 M844 544h1 M886 544h1 M929 544h1" stroke="#b8b8b8" stroke-width="1" fill="none" transform="translate(0,0.5)" shape-rendering="crispEdges"/>
<line x1="100.5" y1="19" x2="100.5" y2="501" stroke="#707070" stroke-width="1" stroke-dasharray="1,2" shape-rendering="crispEdges"/>
<line x1="100.5" y1="504" x2="100.5" y2="564" stroke="#707070" stroke-width="1" stroke-dasharray="1,2" shape-rendering="crispEdges"/>
<line x1="288.5" y1="19" x2="288.5" y2="501" stroke="#707070" stroke-width="1" stroke-dasharray="1,2" shape-rendering="crispEdges"/>
<line x1="288.5" y1="504" x2="288.5" y2="564" stroke="#707070" stroke-width="1" stroke-dasharray="1,2" shape-rendering="crispEdges"/>
<line x1="468.5" y1="19" x2="468.5" y2="501" stroke="#707070" stroke-width="1" stroke-dasharray="1,2" shape-rendering="crispEdges"/>
<line x1="468.5" y1="504" x2="468.5" y2="564" stroke="#707070" stroke-width="1" stroke-dasharray="1,2" shape-rendering="crispEdges"/>
<line x1="639.5" y1="19" x2="639.5" y2="501" stroke="#707070" stroke-width="1" stroke-dasharray="1,2" shape-rendering="crispEdges"/>
<line x1="639.5" y1="504" x2="639.5" y2="564" stroke="#707070" stroke-width="1" stroke-dasharray="1,2" shape-rendering="crispEdges"/>
<line x1="827.5" y1="19" x2="827.5" y2="501" stroke="#707070" stroke-width="1" stroke-dasharray="1,2" shape-rendering="crispEdges"/>
<line x1="827.5" y1="504" x2="827.5" y2="564" stroke="#707070" stroke-width="1" stroke-dasharray="1,2" shape-rendering="crispEdges"/>
<rect x="2" y="99.6" width="1046" height="2.2" fill="#000000"/>
<polygon points="2,293.8 1048,291.8 1048,294.3 2,296.3" fill="#ffff00"/>
<polyline points="6.7,333.6 15.2,326.3 23.8,319.0 32.3,312.0 40.9,305.7 49.4,298.1 58.0,290.8 66.5,283.2 75.1,276.1 83.6,269.8 92.2,264.7 100.7,258.1 109.3,253.0 117.8,249.5 126.3,245.7 134.9,246.1 143.4,245.4 152.0,249.4 160.5,253.7 169.1,254.4 177.6,256.7 186.2,255.3 194.7,254.8 203.3,251.0 211.8,248.8 220.3,244.2 228.9,240.3 237.4,238.3 246.0,240.4 254.5,243.0 263.1,244.9 271.6,243.3 280.2,244.3 288.7,246.3 297.3,247.2 305.8,246.3 314.4,246.0 322.9,245.0 331.4,242.8 340.0,239.2 348.5,237.1 357.1,234.7 365.6,231.0 374.2,227.6 382.7,227.6 391.3,225.0 399.8,223.0 408.4,219.7 416.9,215.8 425.5,211.6 434.0,208.7 442.5,205.1 451.1,202.8 459.6,203.4 468.2,201.0 476.7,197.8 485.3,198.2 493.8,199.7 502.4,200.1 510.9,196.8 519.5,195.1 528.0,194.3 536.6,193.6 545.1,190.0 553.6,186.3 562.2,182.0 570.7,178.0 579.3,174.5 587.8,170.5 596.4,167.3 604.9,167.2 613.5,164.5 622.0,162.4 630.6,162.1 639.1,161.2 647.6,160.7 656.2,159.5 664.7,160.9 673.3,162.6 681.8,166.0 690.4,169.1 698.9,168.7 707.5,167.9 716.0,169.1 724.6,171.5 733.1,172.2 741.7,172.3 750.2,169.7 758.7,168.7 767.3,166.1 775.8,163.3 784.4,162.8 792.9,163.2 801.5,163.6 810.0,169.8 818.6,175.0 827.1,178.0 835.7,181.0 844.2,184.8 852.8,186.9 861.3,193.4 869.8,199.0 878.4,200.9 886.9,199.8 895.5,197.4 904.0,195.4 912.6,191.3 921.1,187.0 929.7,182.7 938.2,179.9 946.8,177.8 955.3,177.5 963.9,180.1" fill="none" stroke="#0000ff" stroke-width="1.7" stroke-linejoin="round"/>
<polyline points="6.7,316.8 15.2,304.2 23.8,291.9 32.3,281.0 40.9,271.6 49.4,259.9 58.0,249.4 66.5,238.4 75.1,228.9 83.6,221.1 92.2,215.7 100.7,207.4 109.3,202.4 117.8,200.3 126.3,197.7 134.9,203.1 143.4,205.8 152.0,217.3 160.5,228.8 169.1,232.5 177.6,239.1 186.2,238.0 194.7,238.7 203.3,232.9 211.8,230.2 220.3,223.0 228.9,217.4 237.4,215.6 246.0,221.9 254.5,228.8 263.1,233.8 271.6,231.8 280.2,234.8 288.7,239.6 297.3,242.0 305.8,240.7 314.4,240.7 322.9,239.2 331.4,235.4 340.0,229.3 348.5,226.1 357.1,222.4 365.6,216.3 374.2,211.2 382.7,212.7 391.3,209.1 399.8,206.6 408.4,201.7 416.9,195.9 425.5,189.5 434.0,185.9 442.5,181.2 451.1,178.9 459.6,182.4 468.2,179.6 476.7,175.6 485.3,178.3 493.8,183.2 502.4,185.6 510.9,180.6 519.5,178.8 528.0,178.7 536.6,178.9 545.1,173.2 553.6,167.6 562.2,160.9 570.7,155.2 579.3,150.5 587.8,145.0 596.4,141.2 604.9,143.5 613.5,140.5 622.0,138.6 630.6,140.2 639.1,140.6 647.6,141.5 656.2,141.2 664.7,145.6 673.3,150.3 681.8,158.1 690.4,164.9 698.9,164.7 707.5,163.5 716.0,166.2 724.6,171.1 733.1,172.5 741.7,172.8 750.2,167.6 758.7,165.8 767.3,160.9 775.8,156.1 784.4,155.8 792.9,157.2 801.5,158.6 810.0,171.1 818.6,181.1 827.1,186.4 835.7,191.4 844.2,198.0 852.8,200.7 861.3,212.1 869.8,221.2 878.4,222.9 886.9,218.6 895.5,212.2 904.0,206.9 912.6,197.7 921.1,188.8 929.7,180.3 938.2,174.9 946.8,171.4 955.3,171.3 963.9,177.0" fill="none" stroke="#ff0000" stroke-width="1.5" stroke-linejoin="round"/>
<polyline points="6.7,292.1 15.2,272.4 23.8,254.7 32.3,240.6 40.9,230.1 49.4,215.2 58.0,203.4 66.5,190.8 75.1,181.3 83.6,175.1 92.2,173.0 100.7,165.0 109.3,163.2 117.8,166.3 126.3,167.5 134.9,183.2 143.4,192.0 152.0,216.6 160.5,238.6 169.1,243.9 177.6,254.5 186.2,249.5 194.7,248.8 203.3,235.8 211.8,230.2 220.3,216.4 228.9,206.9 237.4,205.4 246.0,219.2 254.5,232.9 263.1,241.8 271.6,236.6 280.2,241.3 288.7,249.3 297.3,252.2 305.8,247.9 314.4,246.5 322.9,242.6 331.4,234.8 340.0,223.1 348.5,218.3 357.1,212.6 365.6,202.7 374.2,195.4 382.7,201.1 391.3,196.4 399.8,194.0 408.4,186.8 416.9,178.5 425.5,169.4 434.0,166.2 442.5,160.7 451.1,160.2 459.6,170.2 468.2,167.2 476.7,161.7 485.3,169.5 493.8,180.4 502.4,185.5 510.9,175.9 519.5,173.3 528.0,174.2 536.6,175.3 545.1,165.1 553.6,155.9 562.2,145.2 570.7,137.1 579.3,131.5 587.8,124.5 596.4,121.0 604.9,129.0 613.5,126.0 622.0,124.9 630.6,130.5 639.1,133.1 647.6,136.2 656.2,136.5 664.7,145.7 673.3,154.8 681.8,168.8 690.4,179.9 698.9,176.6 707.5,172.2 716.0,175.8 724.6,183.5 733.1,183.9 741.7,182.3 750.2,170.7 758.7,166.8 767.3,157.2 775.8,148.8 784.4,149.5 792.9,153.2 801.5,156.6 810.0,181.0 818.6,198.2 827.1,205.3 835.7,211.4 844.2,220.3 852.8,221.4 861.3,239.4 869.8,251.8 878.4,249.5 886.9,236.4 895.5,221.0 904.0,209.2 912.6,191.2 921.1,175.4 929.7,161.6 938.2,154.8 946.8,151.7 955.3,155.1 963.9,168.9" fill="none" stroke="#800000" stroke-width="1.4" stroke-linejoin="round" stroke-dasharray="5,1.5"/>
<rect x="6" y="207" width="1" height="50" fill="#505050"/>
<rect x="3" y="207" width="6" height="51" fill="#000"/>
<rect x="4" y="208" width="4" height="49" fill="#00ff00"/>
<rect x="15" y="184" width="1" height="24" fill="#505050"/>
<rect x="12" y="184" width="6" height="20" fill="#000"/>
<rect x="13" y="185" width="4" height="18" fill="#00ff00"/>
<rect x="23" y="173" width="1" height="30" fill="#505050"/>
<rect x="20" y="175" width="6" height="11" fill="#000"/>
<rect x="21" y="176" width="4" height="9" fill="#00ff00"/>
<rect x="32" y="175" width="1" height="22" fill="#505050"/>
<rect x="29" y="177" width="6" height="1" fill="#000"/>
<rect x="40" y="170" width="1" height="31" fill="#505050"/>
<rect x="37" y="178" width="6" height="6" fill="#000"/>
<rect x="38" y="179" width="4" height="4" fill="#ff0000"/>
<rect x="49" y="148" width="1" height="66" fill="#505050"/>
<rect x="46" y="148" width="6" height="34" fill="#000"/>
<rect x="47" y="149" width="4" height="32" fill="#00ff00"/>
<rect x="57" y="148" width="1" height="20" fill="#505050"/>
<rect x="54" y="149" width="6" height="1" fill="#000"/>
<rect x="66" y="127" width="1" height="33" fill="#505050"/>
<rect x="63" y="134" width="6" height="18" fill="#000"/>
<rect x="64" y="135" width="4" height="16" fill="#00ff00"/>
<rect x="75" y="122" width="1" height="27" fill="#505050"/>
<rect x="72" y="135" width="6" height="5" fill="#000"/>
<rect x="73" y="136" width="4" height="3" fill="#ff0000"/>
<rect x="83" y="137" width="1" height="29" fill="#505050"/>
<rect x="80" y="138" width="6" height="10" fill="#000"/>
<rect x="81" y="139" width="4" height="8" fill="#ff0000"/>
<rect x="92" y="142" width="1" height="23" fill="#505050"/>
<rect x="89" y="147" width="6" height="18" fill="#000"/>
<rect x="90" y="148" width="4" height="16" fill="#ff0000"/>
<rect x="100" y="129" width="1" height="34" fill="#505050"/>
<rect x="97" y="129" width="6" height="33" fill="#000"/>
<rect x="98" y="130" width="4" height="31" fill="#00ff00"/>
<rect x="109" y="129" width="1" height="51" fill="#505050"/>
<rect x="106" y="134" width="6" height="22" fill="#000"/>
<rect x="107" y="135" width="4" height="20" fill="#ff0000"/>
<rect x="117" y="155" width="1" height="53" fill="#505050"/>
<rect x="114" y="156" width="6" height="25" fill="#000"/>
<rect x="115" y="157" width="4" height="23" fill="#ff0000"/>
<rect x="126" y="164" width="1" height="24" fill="#505050"/>
<rect x="123" y="173" width="6" height="7" fill="#000"/>
<rect x="124" y="174" width="4" height="5" fill="#00ff00"/>
<rect x="134" y="173" width="1" height="91" fill="#505050"/>
<rect x="131" y="174" width="6" height="81" fill="#000"/>
<rect x="132" y="175" width="4" height="79" fill="#ff0000"/>
<rect x="143" y="221" width="1" height="31" fill="#505050"/>
<rect x="140" y="232" width="6" height="19" fill="#000"/>
<rect x="141" y="233" width="4" height="17" fill="#00ff00"/>
<rect x="151" y="240" width="1" height="87" fill="#505050"/>
<rect x="148" y="241" width="6" height="87" fill="#000"/>
<rect x="149" y="242" width="4" height="85" fill="#ff0000"/>
<rect x="160" y="311" width="1" height="28" fill="#505050"/>
<rect x="157" y="327" width="6" height="12" fill="#000"/>
<rect x="158" y="328" width="4" height="10" fill="#ff0000"/>
<rect x="169" y="268" width="1" height="68" fill="#505050"/>
<rect x="166" y="268" width="6" height="68" fill="#000"/>
<rect x="167" y="269" width="4" height="66" fill="#00ff00"/>
<rect x="177" y="271" width="1" height="64" fill="#505050"/>
<rect x="174" y="272" width="6" height="31" fill="#000"/>
<rect x="175" y="273" width="4" height="29" fill="#ff0000"/>
<rect x="186" y="226" width="1" height="72" fill="#505050"/>
<rect x="183" y="227" width="6" height="71" fill="#000"/>
<rect x="184" y="228" width="4" height="69" fill="#00ff00"/>
<rect x="194" y="227" width="1" height="43" fill="#505050"/>
<rect x="191" y="228" width="6" height="19" fill="#000"/>
<rect x="192" y="229" width="4" height="17" fill="#ff0000"/>
<rect x="203" y="158" width="1" height="123" fill="#505050"/>
<rect x="200" y="177" width="6" height="73" fill="#000"/>
<rect x="201" y="178" width="4" height="71" fill="#00ff00"/>
<rect x="211" y="178" width="1" height="37" fill="#505050"/>
<rect x="208" y="179" width="6" height="27" fill="#000"/>
<rect x="209" y="180" width="4" height="25" fill="#ff0000"/>
<rect x="220" y="138" width="1" height="64" fill="#505050"/>
<rect x="217" y="154" width="6" height="48" fill="#000"/>
<rect x="218" y="155" width="4" height="46" fill="#00ff00"/>
<rect x="228" y="135" width="1" height="30" fill="#505050"/>
<rect x="225" y="154" width="6" height="11" fill="#000"/>
<rect x="226" y="155" width="4" height="9" fill="#ff0000"/>
<rect x="237" y="156" width="1" height="44" fill="#505050"/>
<rect x="234" y="165" width="6" height="35" fill="#000"/>
<rect x="235" y="166" width="4" height="33" fill="#ff0000"/>
<rect x="245" y="183" width="1" height="98" fill="#505050"/>
<rect x="242" y="196" width="6" height="86" fill="#000"/>
<rect x="243" y="197" width="4" height="84" fill="#ff0000"/>
<rect x="254" y="264" width="1" height="59" fill="#505050"/>
<rect x="251" y="285" width="6" height="11" fill="#000"/>
<rect x="252" y="286" width="4" height="9" fill="#ff0000"/>
<rect x="263" y="273" width="1" height="29" fill="#505050"/>
<rect x="260" y="281" width="6" height="14" fill="#000"/>
<rect x="261" y="282" width="4" height="12" fill="#00ff00"/>
<rect x="271" y="205" width="1" height="68" fill="#505050"/>
<rect x="268" y="213" width="6" height="61" fill="#000"/>
<rect x="269" y="214" width="4" height="59" fill="#00ff00"/>
<rect x="280" y="219" width="1" height="52" fill="#505050"/>
<rect x="277" y="219" width="6" height="45" fill="#000"/>
<rect x="278" y="220" width="4" height="43" fill="#ff0000"/>
<rect x="288" y="263" width="1" height="53" fill="#505050"/>
<rect x="285" y="263" width="6" height="23" fill="#000"/>
<rect x="286" y="264" width="4" height="21" fill="#ff0000"/>
<rect x="297" y="250" width="1" height="41" fill="#505050"/>
<rect x="294" y="265" width="6" height="19" fill="#000"/>
<rect x="295" y="266" width="4" height="17" fill="#00ff00"/>
<rect x="305" y="211" width="1" height="83" fill="#505050"/>
<rect x="302" y="228" width="6" height="44" fill="#000"/>
<rect x="303" y="229" width="4" height="42" fill="#00ff00"/>
<rect x="314" y="203" width="1" height="37" fill="#505050"/>
<rect x="311" y="228" width="6" height="13" fill="#000"/>
<rect x="312" y="229" width="4" height="11" fill="#ff0000"/>
<rect x="322" y="212" width="1" height="35" fill="#505050"/>
<rect x="319" y="225" width="6" height="13" fill="#000"/>
<rect x="320" y="226" width="4" height="11" fill="#00ff00"/>
<rect x="331" y="194" width="1" height="50" fill="#505050"/>
<rect x="328" y="200" width="6" height="26" fill="#000"/>
<rect x="329" y="201" width="4" height="24" fill="#00ff00"/>
<rect x="339" y="169" width="1" height="31" fill="#505050"/>
<rect x="336" y="170" width="6" height="30" fill="#000"/>
<rect x="337" y="171" width="4" height="28" fill="#00ff00"/>
<rect x="348" y="155" width="1" height="43" fill="#505050"/>
<rect x="345" y="171" width="6" height="27" fill="#000"/>
<rect x="346" y="172" width="4" height="25" fill="#ff0000"/>
<rect x="357" y="181" width="1" height="40" fill="#505050"/>
<rect x="354" y="187" width="6" height="11" fill="#000"/>
<rect x="355" y="188" width="4" height="9" fill="#00ff00"/>
<rect x="365" y="144" width="1" height="38" fill="#505050"/>
<rect x="362" y="158" width="6" height="24" fill="#000"/>
<rect x="363" y="159" width="4" height="22" fill="#00ff00"/>
<rect x="374" y="145" width="1" height="31" fill="#505050"/>
<rect x="371" y="161" width="6" height="3" fill="#000"/>
<rect x="372" y="162" width="4" height="1" fill="#ff0000"/>
<rect x="382" y="168" width="1" height="82" fill="#505050"/>
<rect x="379" y="169" width="6" height="59" fill="#000"/>
<rect x="380" y="170" width="4" height="57" fill="#ff0000"/>
<rect x="391" y="165" width="1" height="54" fill="#505050"/>
<rect x="388" y="175" width="6" height="44" fill="#000"/>
<rect x="389" y="176" width="4" height="42" fill="#00ff00"/>
<rect x="399" y="149" width="1" height="42" fill="#505050"/>
<rect x="396" y="169" width="6" height="15" fill="#000"/>
<rect x="397" y="170" width="4" height="13" fill="#ff0000"/>
<rect x="408" y="148" width="1" height="52" fill="#505050"/>
<rect x="405" y="155" width="6" height="27" fill="#000"/>
<rect x="406" y="156" width="4" height="25" fill="#00ff00"/>
<rect x="416" y="120" width="1" height="47" fill="#505050"/>
<rect x="413" y="141" width="6" height="16" fill="#000"/>
<rect x="414" y="142" width="4" height="14" fill="#00ff00"/>
<rect x="425" y="120" width="1" height="22" fill="#505050"/>
<rect x="422" y="128" width="6" height="14" fill="#000"/>
<rect x="423" y="129" width="4" height="12" fill="#00ff00"/>
<rect x="433" y="106" width="1" height="51" fill="#505050"/>
<rect x="430" y="124" width="6" height="29" fill="#000"/>
<rect x="431" y="125" width="4" height="27" fill="#ff0000"/>
<rect x="442" y="133" width="1" height="57" fill="#505050"/>
<rect x="439" y="136" width="6" height="18" fill="#000"/>
<rect x="440" y="137" width="4" height="16" fill="#00ff00"/>
<rect x="451" y="138" width="1" height="43" fill="#505050"/>
<rect x="448" y="143" width="6" height="16" fill="#000"/>
<rect x="449" y="144" width="4" height="14" fill="#ff0000"/>
<rect x="459" y="160" width="1" height="76" fill="#505050"/>
<rect x="456" y="160" width="6" height="56" fill="#000"/>
<rect x="457" y="161" width="4" height="54" fill="#ff0000"/>
<rect x="468" y="153" width="1" height="57" fill="#505050"/>
<rect x="465" y="154" width="6" height="57" fill="#000"/>
<rect x="466" y="155" width="4" height="55" fill="#00ff00"/>
<rect x="476" y="120" width="1" height="28" fill="#505050"/>
<rect x="473" y="137" width="6" height="12" fill="#000"/>
<rect x="474" y="138" width="4" height="10" fill="#00ff00"/>
<rect x="485" y="134" width="1" height="72" fill="#505050"/>
<rect x="482" y="142" width="6" height="64" fill="#000"/>
<rect x="483" y="143" width="4" height="62" fill="#ff0000"/>
<rect x="493" y="187" width="1" height="75" fill="#505050"/>
<rect x="490" y="200" width="6" height="31" fill="#000"/>
<rect x="491" y="201" width="4" height="29" fill="#ff0000"/>
<rect x="502" y="195" width="1" height="48" fill="#505050"/>
<rect x="499" y="208" width="6" height="22" fill="#000"/>
<rect x="500" y="209" width="4" height="20" fill="#00ff00"/>
<rect x="510" y="128" width="1" height="69" fill="#505050"/>
<rect x="507" y="133" width="6" height="64" fill="#000"/>
<rect x="508" y="134" width="4" height="62" fill="#00ff00"/>
<rect x="519" y="128" width="1" height="36" fill="#505050"/>
<rect x="516" y="134" width="6" height="29" fill="#000"/>
<rect x="517" y="135" width="4" height="27" fill="#ff0000"/>
<rect x="528" y="162" width="1" height="52" fill="#505050"/>
<rect x="525" y="168" width="6" height="11" fill="#000"/>
<rect x="526" y="169" width="4" height="9" fill="#ff0000"/>
<rect x="536" y="149" width="1" height="37" fill="#505050"/>
<rect x="533" y="177" width="6" height="4" fill="#000"/>
<rect x="534" y="178" width="4" height="2" fill="#ff0000"/>
<rect x="545" y="118" width="1" height="57" fill="#505050"/>
<rect x="542" y="119" width="6" height="56" fill="#000"/>
<rect x="543" y="120" width="4" height="54" fill="#00ff00"/>
<rect x="553" y="109" width="1" height="21" fill="#505050"/>
<rect x="550" y="116" width="6" height="1" fill="#000"/>
<rect x="562" y="90" width="1" height="31" fill="#505050"/>
<rect x="559" y="97" width="6" height="22" fill="#000"/>
<rect x="560" y="98" width="4" height="20" fill="#00ff00"/>
<rect x="570" y="87" width="1" height="23" fill="#505050"/>
<rect x="567" y="97" width="6" height="5" fill="#000"/>
<rect x="568" y="98" width="4" height="3" fill="#ff0000"/>
<rect x="579" y="82" width="1" height="32" fill="#505050"/>
<rect x="576" y="101" width="6" height="6" fill="#000"/>
<rect x="577" y="102" width="4" height="4" fill="#ff0000"/>
<rect x="587" y="84" width="1" height="29" fill="#505050"/>
<rect x="584" y="93" width="6" height="14" fill="#000"/>
<rect x="585" y="94" width="4" height="12" fill="#00ff00"/>
<rect x="596" y="89" width="1" height="17" fill="#505050"/>
<rect x="593" y="95" width="6" height="12" fill="#000"/>
<rect x="594" y="96" width="4" height="10" fill="#ff0000"/>
<rect x="604" y="107" width="1" height="71" fill="#505050"/>
<rect x="601" y="107" width="6" height="59" fill="#000"/>
<rect x="602" y="108" width="4" height="57" fill="#ff0000"/>
<rect x="613" y="105" width="1" height="56" fill="#505050"/>
<rect x="610" y="113" width="6" height="49" fill="#000"/>
<rect x="611" y="114" width="4" height="47" fill="#00ff00"/>
<rect x="622" y="116" width="1" height="28" fill="#505050"/>
<rect x="619" y="117" width="6" height="4" fill="#000"/>
<rect x="620" y="118" width="4" height="2" fill="#ff0000"/>
<rect x="630" y="121" width="1" height="40" fill="#505050"/>
<rect x="627" y="121" width="6" height="36" fill="#000"/>
<rect x="628" y="122" width="4" height="34" fill="#ff0000"/>
<rect x="639" y="125" width="1" height="44" fill="#505050"/>
<rect x="636" y="144" width="6" height="8" fill="#000"/>
<rect x="637" y="145" width="4" height="6" fill="#00ff00"/>
<rect x="647" y="128" width="1" height="50" fill="#505050"/>
<rect x="644" y="150" width="6" height="1" fill="#000"/>
<rect x="656" y="116" width="1" height="31" fill="#505050"/>
<rect x="653" y="138" width="6" height="9" fill="#000"/>
<rect x="654" y="139" width="4" height="7" fill="#00ff00"/>
<rect x="664" y="142" width="1" height="52" fill="#505050"/>
<rect x="661" y="143" width="6" height="45" fill="#000"/>
<rect x="662" y="144" width="4" height="43" fill="#ff0000"/>
<rect x="673" y="174" width="1" height="41" fill="#505050"/>
<rect x="670" y="190" width="6" height="6" fill="#000"/>
<rect x="671" y="191" width="4" height="4" fill="#ff0000"/>
<rect x="681" y="196" width="1" height="37" fill="#505050"/>
<rect x="678" y="196" width="6" height="37" fill="#000"/>
<rect x="679" y="197" width="4" height="35" fill="#ff0000"/>
<rect x="690" y="216" width="1" height="34" fill="#505050"/>
<rect x="687" y="230" width="6" height="4" fill="#000"/>
<rect x="688" y="231" width="4" height="2" fill="#00ff00"/>
<rect x="698" y="153" width="1" height="74" fill="#505050"/>
<rect x="695" y="162" width="6" height="65" fill="#000"/>
<rect x="696" y="163" width="4" height="63" fill="#00ff00"/>
<rect x="707" y="136" width="1" height="24" fill="#505050"/>
<rect x="704" y="152" width="6" height="8" fill="#000"/>
<rect x="705" y="153" width="4" height="6" fill="#00ff00"/>
<rect x="716" y="156" width="1" height="42" fill="#505050"/>
<rect x="713" y="156" width="6" height="37" fill="#000"/>
<rect x="714" y="157" width="4" height="35" fill="#ff0000"/>
<rect x="724" y="199" width="1" height="51" fill="#505050"/>
<rect x="721" y="200" width="6" height="19" fill="#000"/>
<rect x="722" y="201" width="4" height="17" fill="#ff0000"/>
<rect x="733" y="184" width="1" height="40" fill="#505050"/>
<rect x="730" y="186" width="6" height="33" fill="#000"/>
<rect x="731" y="187" width="4" height="31" fill="#00ff00"/>
<rect x="741" y="158" width="1" height="48" fill="#505050"/>
<rect x="738" y="175" width="6" height="9" fill="#000"/>
<rect x="739" y="176" width="4" height="7" fill="#00ff00"/>
<rect x="750" y="104" width="1" height="67" fill="#505050"/>
<rect x="747" y="119" width="6" height="53" fill="#000"/>
<rect x="748" y="120" width="4" height="51" fill="#00ff00"/>
<rect x="758" y="115" width="1" height="35" fill="#505050"/>
<rect x="755" y="118" width="6" height="32" fill="#000"/>
<rect x="756" y="119" width="4" height="30" fill="#ff0000"/>
<rect x="767" y="95" width="1" height="48" fill="#505050"/>
<rect x="764" y="114" width="6" height="29" fill="#000"/>
<rect x="765" y="115" width="4" height="27" fill="#00ff00"/>
<rect x="775" y="100" width="1" height="21" fill="#505050"/>
<rect x="772" y="111" width="6" height="3" fill="#000"/>
<rect x="773" y="112" width="4" height="1" fill="#00ff00"/>
<rect x="784" y="108" width="1" height="45" fill="#505050"/>
<rect x="781" y="112" width="6" height="42" fill="#000"/>
<rect x="782" y="113" width="4" height="40" fill="#ff0000"/>
<rect x="792" y="132" width="1" height="39" fill="#505050"/>
<rect x="789" y="149" width="6" height="22" fill="#000"/>
<rect x="790" y="150" width="4" height="20" fill="#ff0000"/>
<rect x="801" y="152" width="1" height="36" fill="#505050"/>
<rect x="798" y="169" width="6" height="4" fill="#000"/>
<rect x="799" y="170" width="4" height="2" fill="#ff0000"/>
<rect x="810" y="179" width="1" height="114" fill="#505050"/>
<rect x="807" y="180" width="6" height="112" fill="#000"/>
<rect x="808" y="181" width="4" height="110" fill="#ff0000"/>
<rect x="818" y="246" width="1" height="48" fill="#505050"/>
<rect x="815" y="276" width="6" height="5" fill="#000"/>
<rect x="816" y="277" width="4" height="3" fill="#00ff00"/>
<rect x="827" y="223" width="1" height="42" fill="#505050"/>
<rect x="824" y="237" width="6" height="28" fill="#000"/>
<rect x="825" y="238" width="4" height="26" fill="#00ff00"/>
<rect x="835" y="216" width="1" height="38" fill="#505050"/>
<rect x="832" y="236" width="6" height="4" fill="#000"/>
<rect x="833" y="237" width="4" height="2" fill="#ff0000"/>
<rect x="844" y="234" width="1" height="54" fill="#505050"/>
<rect x="841" y="246" width="6" height="15" fill="#000"/>
<rect x="842" y="247" width="4" height="13" fill="#ff0000"/>
<rect x="852" y="221" width="1" height="106" fill="#505050"/>
<rect x="849" y="226" width="6" height="32" fill="#000"/>
<rect x="850" y="227" width="4" height="30" fill="#00ff00"/>
<rect x="861" y="236" width="1" height="90" fill="#505050"/>
<rect x="858" y="237" width="6" height="84" fill="#000"/>
<rect x="859" y="238" width="4" height="82" fill="#ff0000"/>
<rect x="869" y="246" width="1" height="66" fill="#505050"/>
<rect x="866" y="308" width="6" height="4" fill="#000"/>
<rect x="867" y="309" width="4" height="2" fill="#00ff00"/>
<rect x="878" y="227" width="1" height="77" fill="#505050"/>
<rect x="875" y="239" width="6" height="65" fill="#000"/>
<rect x="876" y="240" width="4" height="63" fill="#00ff00"/>
<rect x="886" y="174" width="1" height="55" fill="#505050"/>
<rect x="883" y="177" width="6" height="52" fill="#000"/>
<rect x="884" y="178" width="4" height="50" fill="#00ff00"/>
<rect x="895" y="145" width="1" height="35" fill="#505050"/>
<rect x="892" y="152" width="6" height="25" fill="#000"/>
<rect x="893" y="153" width="4" height="23" fill="#00ff00"/>
<rect x="904" y="138" width="1" height="31" fill="#505050"/>
<rect x="901" y="152" width="6" height="5" fill="#000"/>
<rect x="902" y="153" width="4" height="3" fill="#ff0000"/>
<rect x="912" y="110" width="1" height="37" fill="#505050"/>
<rect x="909" y="110" width="6" height="37" fill="#000"/>
<rect x="910" y="111" width="4" height="35" fill="#00ff00"/>
<rect x="921" y="101" width="1" height="20" fill="#505050"/>
<rect x="918" y="104" width="6" height="1" fill="#000"/>
<rect x="929" y="87" width="1" height="24" fill="#505050"/>
<rect x="926" y="100" width="6" height="4" fill="#000"/>
<rect x="927" y="101" width="4" height="2" fill="#00ff00"/>
<rect x="938" y="100" width="1" height="34" fill="#505050"/>
<rect x="935" y="101" width="6" height="24" fill="#000"/>
<rect x="936" y="102" width="4" height="22" fill="#ff0000"/>
<rect x="946" y="126" width="1" height="23" fill="#505050"/>
<rect x="943" y="127" width="6" height="12" fill="#000"/>
<rect x="944" y="128" width="4" height="10" fill="#ff0000"/>
<rect x="955" y="130" width="1" height="41" fill="#505050"/>
<rect x="952" y="137" width="6" height="34" fill="#000"/>
<rect x="953" y="138" width="4" height="32" fill="#ff0000"/>
<rect x="963" y="160" width="1" height="78" fill="#505050"/>
<rect x="960" y="170" width="6" height="62" fill="#000"/>
<rect x="961" y="171" width="4" height="60" fill="#ff0000"/>
<text x="430" y="95" font-size="13" font-weight="bold" fill="#000" text-anchor="middle" textLength="9" lengthAdjust="spacingAndGlyphs" >H</text>
<text x="583" y="77" font-size="13" font-weight="bold" fill="#000" text-anchor="middle" textLength="9" lengthAdjust="spacingAndGlyphs" >H</text>
<text x="771" y="91" font-size="13" font-weight="bold" fill="#000" text-anchor="middle" textLength="9" lengthAdjust="spacingAndGlyphs" >H</text>
<text x="925" y="84" font-size="13" font-weight="bold" fill="#000" text-anchor="middle" textLength="9" lengthAdjust="spacingAndGlyphs" >H</text>
<text x="165" y="352" font-size="13" font-weight="bold" fill="#000" text-anchor="middle" textLength="8" lengthAdjust="spacingAndGlyphs" >L</text>
<text x="258" y="339" font-size="13" font-weight="bold" fill="#000" text-anchor="middle" textLength="8" lengthAdjust="spacingAndGlyphs" >L</text>
<text x="865" y="339" font-size="13" font-weight="bold" fill="#000" text-anchor="middle" textLength="8" lengthAdjust="spacingAndGlyphs" >L</text>
<text x="1.5" y="29" font-size="11.5" font-weight="normal" fill="#000" text-anchor="start" textLength="114" lengthAdjust="spacingAndGlyphs" stroke="#000" stroke-width="0.4">($SPX - S&amp;P 500 INDEX,D)</text>
<text x="2" y="41" font-size="10.5" font-weight="normal" fill="#a00000" text-anchor="start" textLength="44" lengthAdjust="spacingAndGlyphs" stroke="#a00000" stroke-width="0.4">MA(10,C)e</text>
<text x="2" y="52" font-size="10.5" font-weight="normal" fill="#ff0000" text-anchor="start" textLength="44" lengthAdjust="spacingAndGlyphs" stroke="#ff0000" stroke-width="0.4">MA(20,C)e</text>
<text x="2" y="63" font-size="10.5" font-weight="normal" fill="#0000ff" text-anchor="start" textLength="44" lengthAdjust="spacingAndGlyphs" stroke="#0000ff" stroke-width="0.4">MA(40,C)e</text>
<rect x="120" y="21" width="228" height="11" fill="#808080"/>
<rect x="120" y="21" width="227" height="10" fill="#c0c0c0"/>
<rect x="120" y="21" width="227" height="1" fill="#e8e8e8"/>
<rect x="301" y="21" width="46" height="10" fill="#ff0000"/>
<text x="125" y="29.5" font-size="9" font-weight="bold" fill="#202020" text-anchor="start" textLength="37" lengthAdjust="spacingAndGlyphs" >O: 2102.24</text>
<text x="170" y="29.5" font-size="9" font-weight="bold" fill="#202020" text-anchor="start" textLength="38" lengthAdjust="spacingAndGlyphs" >H: 2106.01</text>
<text x="215" y="29.5" font-size="9" font-weight="bold" fill="#202020" text-anchor="start" textLength="37" lengthAdjust="spacingAndGlyphs" >L: 2077.09</text>
<text x="259" y="29.5" font-size="9" font-weight="bold" fill="#202020" text-anchor="start" textLength="37" lengthAdjust="spacingAndGlyphs" >C: 2079.65</text>
<text x="305" y="29.5" font-size="9" font-weight="bold" fill="#202020" text-anchor="start" textLength="38" lengthAdjust="spacingAndGlyphs" >Net: -22.50</text>
<rect x="1048" y="18" width="1" height="558" fill="#000"/>
<text x="1049" y="504" font-size="11" font-weight="normal" fill="#000" text-anchor="start" textLength="32" lengthAdjust="spacingAndGlyphs" stroke="#000" stroke-width="0.35">1980.00</text>
<text x="1049" y="477" font-size="11" font-weight="normal" fill="#000" text-anchor="start" textLength="32" lengthAdjust="spacingAndGlyphs" stroke="#000" stroke-width="0.35">1990.00</text>
<text x="1049" y="450" font-size="11" font-weight="normal" fill="#000" text-anchor="start" textLength="32" lengthAdjust="spacingAndGlyphs" stroke="#000" stroke-width="0.35">2000.00</text>
<text x="1049" y="423" font-size="11" font-weight="normal" fill="#000" text-anchor="start" textLength="32" lengthAdjust="spacingAndGlyphs" stroke="#000" stroke-width="0.35">2010.00</text>
<text x="1049" y="396" font-size="11" font-weight="normal" fill="#000" text-anchor="start" textLength="32" lengthAdjust="spacingAndGlyphs" stroke="#000" stroke-width="0.35">2020.00</text>
<text x="1049" y="369" font-size="11" font-weight="normal" fill="#000" text-anchor="start" textLength="32" lengthAdjust="spacingAndGlyphs" stroke="#000" stroke-width="0.35">2030.00</text>
<text x="1049" y="342" font-size="11" font-weight="normal" fill="#000" text-anchor="start" textLength="32" lengthAdjust="spacingAndGlyphs" stroke="#000" stroke-width="0.35">2040.00</text>
<text x="1049" y="315" font-size="11" font-weight="normal" fill="#000" text-anchor="start" textLength="32" lengthAdjust="spacingAndGlyphs" stroke="#000" stroke-width="0.35">2050.00</text>
<text x="1049" y="288" font-size="11" font-weight="normal" fill="#000" text-anchor="start" textLength="32" lengthAdjust="spacingAndGlyphs" stroke="#000" stroke-width="0.35">2060.00</text>
<text x="1049" y="261" font-size="11" font-weight="normal" fill="#000" text-anchor="start" textLength="32" lengthAdjust="spacingAndGlyphs" stroke="#000" stroke-width="0.35">2070.00</text>
<text x="1049" y="234" font-size="11" font-weight="normal" fill="#000" text-anchor="start" textLength="32" lengthAdjust="spacingAndGlyphs" stroke="#000" stroke-width="0.35">2080.00</text>
<text x="1049" y="207" font-size="11" font-weight="normal" fill="#000" text-anchor="start" textLength="32" lengthAdjust="spacingAndGlyphs" stroke="#000" stroke-width="0.35">2090.00</text>
<text x="1049" y="180" font-size="11" font-weight="normal" fill="#000" text-anchor="start" textLength="32" lengthAdjust="spacingAndGlyphs" stroke="#000" stroke-width="0.35">2100.00</text>
<text x="1049" y="153" font-size="11" font-weight="normal" fill="#000" text-anchor="start" textLength="32" lengthAdjust="spacingAndGlyphs" stroke="#000" stroke-width="0.35">2110.00</text>
<text x="1049" y="125" font-size="11" font-weight="normal" fill="#000" text-anchor="start" textLength="32" lengthAdjust="spacingAndGlyphs" stroke="#000" stroke-width="0.35">2120.00</text>
<text x="1049" y="98" font-size="11" font-weight="normal" fill="#000" text-anchor="start" textLength="32" lengthAdjust="spacingAndGlyphs" stroke="#000" stroke-width="0.35">2130.00</text>
<text x="1049" y="71" font-size="11" font-weight="normal" fill="#000" text-anchor="start" textLength="32" lengthAdjust="spacingAndGlyphs" stroke="#000" stroke-width="0.35">2140.00</text>
<text x="1049" y="44" font-size="11" font-weight="normal" fill="#000" text-anchor="start" textLength="32" lengthAdjust="spacingAndGlyphs" stroke="#000" stroke-width="0.35">2150.00</text>
<rect x="1049" y="229.5" width="33" height="7" fill="#ff0000"/>
<text x="1050" y="237.5" font-size="10.5" font-weight="normal" fill="#fff" text-anchor="start" textLength="31" lengthAdjust="spacingAndGlyphs" >2079.65</text>
<rect x="1049" y="182.2" width="47.5" height="3.2" fill="#0000ff"/>
<text x="1050" y="190.5" font-size="10.5" font-weight="normal" fill="#fff" text-anchor="start" textLength="45" lengthAdjust="spacingAndGlyphs" >2098.52405</text>
<rect x="1049" y="185.4" width="49" height="8" fill="#ffffff"/>
<rect x="1049" y="163.4" width="42.5" height="8.5" fill="#800000"/>
<text x="1050" y="172" font-size="10.5" font-weight="normal" fill="#fff" text-anchor="start" textLength="41" lengthAdjust="spacingAndGlyphs" >2102.6514</text>
<rect x="1049" y="171.7" width="47.5" height="10.5" fill="#ff0000"/>
<text x="1050" y="181" font-size="10.5" font-weight="normal" fill="#fff" text-anchor="start" textLength="46" lengthAdjust="spacingAndGlyphs" >2099.66126</text>
<rect x="1049" y="219.8" width="49" height="9.7" fill="#ff6a22"/>
<text x="1050" y="228.6" font-size="10.5" font-weight="normal" fill="#fff" text-anchor="start" textLength="47" lengthAdjust="spacingAndGlyphs" >2081.52769</text>
<rect x="1049" y="236.5" width="49" height="4" fill="#ffffff"/>
<text x="3" y="499.5" font-size="7" font-weight="bold" fill="#303030" text-anchor="start" textLength="38" lengthAdjust="spacingAndGlyphs" >© eSignal, 2011</text>
<rect x="2" y="501" width="1046" height="1" fill="#d8d8d8"/>
<rect x="2" y="502" width="1046" height="1" fill="#808080"/>
<rect x="2" y="503" width="1046" height="1" fill="#c8c8c8"/>
<rect x="2" y="531" width="1046" height="1" fill="#000"/>
<rect x="6.20" y="517.0" width="1.1" height="14.0" fill="#ff00ff"/>
<rect x="14.75" y="514.4" width="1.1" height="16.6" fill="#ff00ff"/>
<rect x="23.29" y="514.8" width="1.1" height="16.2" fill="#ff00ff"/>
<rect x="31.84" y="517.5" width="1.1" height="13.5" fill="#ff00ff"/>
<rect x="40.38" y="522.1" width="1.1" height="8.9" fill="#ff00ff"/>
<rect x="48.93" y="522.7" width="1.1" height="8.3" fill="#ff00ff"/>
<rect x="57.48" y="525.8" width="1.1" height="5.2" fill="#ff00ff"/>
<rect x="66.02" y="528.1" width="1.1" height="2.9" fill="#ff00ff"/>
<rect x="74.57" y="532" width="1.1" height="-0.2" fill="#ff00ff"/>
<rect x="83.11" y="532" width="1.1" height="3.6" fill="#ff00ff"/>
<rect x="91.66" y="532" width="1.1" height="8.1" fill="#ff00ff"/>
<rect x="100.21" y="532" width="1.1" height="6.0" fill="#ff00ff"/>
<rect x="108.75" y="532" width="1.1" height="8.8" fill="#ff00ff"/>
<rect x="117.30" y="532" width="1.1" height="13.2" fill="#ff00ff"/>
<rect x="125.84" y="532" width="1.1" height="13.6" fill="#ff00ff"/>
<rect x="134.39" y="532" width="1.1" height="22.4" fill="#ff00ff"/>
<rect x="142.94" y="532" width="1.1" height="21.0" fill="#ff00ff"/>
<rect x="151.48" y="532" width="1.1" height="29.0" fill="#ff00ff"/>
<rect x="160.03" y="532" width="1.1" height="29.7" fill="#ff00ff"/>
<rect x="168.57" y="532" width="1.1" height="17.9" fill="#ff00ff"/>
<rect x="177.12" y="532" width="1.1" height="14.7" fill="#ff00ff"/>
<rect x="185.67" y="532" width="1.1" height="2.1" fill="#ff00ff"/>
<rect x="194.21" y="530.3" width="1.1" height="0.7" fill="#ff00ff"/>
<rect x="202.76" y="520.1" width="1.1" height="10.9" fill="#ff00ff"/>
<rect x="211.30" y="519.8" width="1.1" height="11.2" fill="#ff00ff"/>
<rect x="219.85" y="514.4" width="1.1" height="16.6" fill="#ff00ff"/>
<rect x="228.40" y="514.9" width="1.1" height="16.1" fill="#ff00ff"/>
<rect x="236.94" y="520.4" width="1.1" height="10.6" fill="#ff00ff"/>
<rect x="245.49" y="532" width="1.1" height="0.8" fill="#ff00ff"/>
<rect x="254.03" y="532" width="1.1" height="6.4" fill="#ff00ff"/>
<rect x="262.58" y="532" width="1.1" height="5.6" fill="#ff00ff"/>
<rect x="271.13" y="528.7" width="1.1" height="2.3" fill="#ff00ff"/>
<rect x="279.67" y="531.1" width="1.1" height="-0.1" fill="#ff00ff"/>
<rect x="288.22" y="532" width="1.1" height="3.1" fill="#ff00ff"/>
<rect x="296.76" y="532" width="1.1" height="2.6" fill="#ff00ff"/>
<rect x="305.31" y="529.8" width="1.1" height="1.2" fill="#ff00ff"/>
<rect x="313.86" y="529.9" width="1.1" height="1.1" fill="#ff00ff"/>
<rect x="322.40" y="528.2" width="1.1" height="2.8" fill="#ff00ff"/>
<rect x="330.95" y="525.0" width="1.1" height="6.0" fill="#ff00ff"/>
<rect x="339.49" y="520.8" width="1.1" height="10.2" fill="#ff00ff"/>
<rect x="348.04" y="523.2" width="1.1" height="7.8" fill="#ff00ff"/>
<rect x="356.59" y="523.6" width="1.1" height="7.4" fill="#ff00ff"/>
<rect x="365.13" y="520.9" width="1.1" height="10.1" fill="#ff00ff"/>
<rect x="373.68" y="521.5" width="1.1" height="9.5" fill="#ff00ff"/>
<rect x="382.22" y="531.0" width="1.1" height="0.0" fill="#ff00ff"/>
<rect x="390.77" y="529.4" width="1.1" height="1.6" fill="#ff00ff"/>
<rect x="399.32" y="530.7" width="1.1" height="0.3" fill="#ff00ff"/>
<rect x="407.86" y="528.2" width="1.1" height="2.8" fill="#ff00ff"/>
<rect x="416.41" y="526.7" width="1.1" height="4.3" fill="#ff00ff"/>
<rect x="424.95" y="526.2" width="1.1" height="4.8" fill="#ff00ff"/>
<rect x="433.50" y="530.2" width="1.1" height="0.8" fill="#ff00ff"/>
<rect x="442.05" y="530.7" width="1.1" height="0.3" fill="#ff00ff"/>
<rect x="450.59" y="532" width="1.1" height="2.2" fill="#ff00ff"/>
<rect x="459.14" y="532" width="1.1" height="10.5" fill="#ff00ff"/>
<rect x="467.68" y="532" width="1.1" height="5.7" fill="#ff00ff"/>
<rect x="476.23" y="532" width="1.1" height="1.3" fill="#ff00ff"/>
<rect x="484.78" y="532" width="1.1" height="7.6" fill="#ff00ff"/>
<rect x="493.32" y="532" width="1.1" height="12.2" fill="#ff00ff"/>
<rect x="501.87" y="532" width="1.1" height="9.9" fill="#ff00ff"/>
<rect x="510.41" y="530.8" width="1.1" height="0.2" fill="#ff00ff"/>
<rect x="518.96" y="530.4" width="1.1" height="0.6" fill="#ff00ff"/>
<rect x="527.51" y="532" width="1.1" height="0.4" fill="#ff00ff"/>
<rect x="536.05" y="532" width="1.1" height="1.3" fill="#ff00ff"/>
<rect x="544.60" y="526.3" width="1.1" height="4.7" fill="#ff00ff"/>
<rect x="553.14" y="523.5" width="1.1" height="7.5" fill="#ff00ff"/>
<rect x="561.69" y="521.1" width="1.1" height="9.9" fill="#ff00ff"/>
<rect x="570.24" y="521.9" width="1.1" height="9.1" fill="#ff00ff"/>
<rect x="578.78" y="524.0" width="1.1" height="7.0" fill="#ff00ff"/>
<rect x="587.33" y="524.3" width="1.1" height="6.7" fill="#ff00ff"/>
<rect x="595.87" y="527.5" width="1.1" height="3.5" fill="#ff00ff"/>
<rect x="604.42" y="532" width="1.1" height="4.3" fill="#ff00ff"/>
<rect x="612.97" y="532" width="1.1" height="1.3" fill="#ff00ff"/>
<rect x="621.51" y="532" width="1.1" height="1.4" fill="#ff00ff"/>
<rect x="630.06" y="532" width="1.1" height="6.2" fill="#ff00ff"/>
<rect x="638.60" y="532" width="1.1" height="6.6" fill="#ff00ff"/>
<rect x="647.15" y="532" width="1.1" height="6.7" fill="#ff00ff"/>
<rect x="655.70" y="532" width="1.1" height="4.7" fill="#ff00ff"/>
<rect x="664.24" y="532" width="1.1" height="9.4" fill="#ff00ff"/>
<rect x="672.79" y="532" width="1.1" height="11.3" fill="#ff00ff"/>
<rect x="681.33" y="532" width="1.1" height="14.6" fill="#ff00ff"/>
<rect x="689.88" y="532" width="1.1" height="13.4" fill="#ff00ff"/>
<rect x="698.43" y="532" width="1.1" height="2.8" fill="#ff00ff"/>
<rect x="706.97" y="528.5" width="1.1" height="2.5" fill="#ff00ff"/>
<rect x="715.52" y="530.4" width="1.1" height="0.6" fill="#ff00ff"/>
<rect x="724.06" y="532" width="1.1" height="1.5" fill="#ff00ff"/>
<rect x="732.61" y="530.0" width="1.1" height="1.0" fill="#ff00ff"/>
<rect x="741.16" y="527.2" width="1.1" height="3.8" fill="#ff00ff"/>
<rect x="749.70" y="519.5" width="1.1" height="11.5" fill="#ff00ff"/>
<rect x="758.25" y="520.9" width="1.1" height="10.1" fill="#ff00ff"/>
<rect x="766.79" y="518.5" width="1.1" height="12.5" fill="#ff00ff"/>
<rect x="775.34" y="518.5" width="1.1" height="12.5" fill="#ff00ff"/>
<rect x="783.89" y="524.8" width="1.1" height="6.2" fill="#ff00ff"/>
<rect x="792.43" y="529.8" width="1.1" height="1.2" fill="#ff00ff"/>
<rect x="800.98" y="532" width="1.1" height="0.3" fill="#ff00ff"/>
<rect x="809.52" y="532" width="1.1" height="15.1" fill="#ff00ff"/>
<rect x="818.07" y="532" width="1.1" height="17.6" fill="#ff00ff"/>
<rect x="826.62" y="532" width="1.1" height="12.1" fill="#ff00ff"/>
<rect x="835.16" y="532" width="1.1" height="8.3" fill="#ff00ff"/>
<rect x="843.71" y="532" width="1.1" height="7.8" fill="#ff00ff"/>
<rect x="852.25" y="532" width="1.1" height="2.3" fill="#ff00ff"/>
<rect x="860.80" y="532" width="1.1" height="10.5" fill="#ff00ff"/>
<rect x="869.35" y="532" width="1.1" height="10.4" fill="#ff00ff"/>
<rect x="877.89" y="532" width="1.1" height="0.4" fill="#ff00ff"/>
<rect x="886.44" y="520.1" width="1.1" height="10.9" fill="#ff00ff"/>
<rect x="894.98" y="513.0" width="1.1" height="18.0" fill="#ff00ff"/>
<rect x="903.53" y="511.9" width="1.1" height="19.1" fill="#ff00ff"/>
<rect x="912.08" y="507.6" width="1.1" height="23.4" fill="#ff00ff"/>
<rect x="920.62" y="507.6" width="1.1" height="23.4" fill="#ff00ff"/>
<rect x="929.17" y="509.7" width="1.1" height="21.3" fill="#ff00ff"/>
<rect x="937.71" y="515.9" width="1.1" height="15.1" fill="#ff00ff"/>
<rect x="946.26" y="522.7" width="1.1" height="8.3" fill="#ff00ff"/>
<rect x="954.81" y="531.1" width="1.1" height="-0.1" fill="#ff00ff"/>
<rect x="963.35" y="532" width="1.1" height="10.0" fill="#ff00ff"/>
<polyline points="6.7,525.5 15.2,524.8 23.8,524.0 32.3,523.5 40.9,522.6 49.4,520.7 58.0,519.1 66.5,517.0 75.1,515.5 83.6,515.1 92.2,515.1 100.7,515.4 109.3,515.9 117.8,516.4 126.3,517.3 134.9,518.8 143.4,520.8 152.0,523.6 160.5,526.7 169.1,529.1 177.6,531.2 186.2,532.6 194.7,533.8 203.3,534.4 211.8,534.9 220.3,534.8 228.9,534.4 237.4,534.5 246.0,535.2 254.5,536.0 263.1,536.7 271.6,536.2 280.2,535.8 288.7,534.9 297.3,533.6 305.8,532.6 314.4,531.5 322.9,531.1 331.4,530.6 340.0,530.3 348.5,530.3 357.1,530.6 365.6,530.7 374.2,530.5 382.7,530.1 391.3,529.1 399.8,528.1 408.4,527.6 416.9,526.7 425.5,525.6 434.0,524.8 442.5,524.3 451.1,524.1 459.6,524.6 468.2,525.0 476.7,525.5 485.3,526.3 493.8,527.4 502.4,528.6 510.9,529.1 519.5,529.0 528.0,529.1 536.6,529.4 545.1,529.4 553.6,529.3 562.2,529.2 570.7,529.0 579.3,528.9 587.8,528.5 596.4,527.8 604.9,527.9 613.5,528.0 622.0,527.7 630.6,527.4 639.1,527.1 647.6,527.5 656.2,527.8 664.7,528.3 673.3,528.9 681.8,530.2 690.4,531.7 698.9,532.8 707.5,533.5 716.0,534.2 724.6,535.2 733.1,535.9 741.7,535.8 750.2,535.4 758.7,535.1 767.3,534.3 775.8,533.4 784.4,532.9 792.9,532.7 801.5,532.4 810.0,532.9 818.6,533.3 827.1,533.3 835.7,533.7 844.2,534.5 852.8,534.8 861.3,535.4 869.8,536.1 878.4,536.5 886.9,536.6 895.5,536.2 904.0,535.9 912.6,535.3 921.1,534.4 929.7,533.1 938.2,532.1 946.8,530.4 955.3,529.0 963.9,528.6" fill="none" stroke="#ff0000" stroke-width="1.0" stroke-linejoin="round"/>
<polyline points="6.7,511.3 15.2,508.0 23.8,507.6 32.3,509.9 40.9,513.4 49.4,512.3 58.0,513.7 66.5,514.0 75.1,516.2 83.6,519.5 92.2,524.0 100.7,522.2 109.3,525.5 117.8,530.4 126.3,531.7 134.9,542.0 143.4,542.6 152.0,553.5 160.5,557.2 169.1,547.8 177.6,546.7 186.2,535.5 194.7,532.9 203.3,523.3 211.8,523.5 220.3,518.0 228.9,518.2 237.4,523.7 246.0,536.8 254.5,543.3 263.1,543.2 271.6,533.7 280.2,535.7 288.7,538.8 297.3,537.0 305.8,531.2 314.4,530.2 322.9,528.1 331.4,524.4 340.0,519.9 348.5,522.3 357.1,522.9 365.6,520.4 374.2,520.8 382.7,529.9 391.3,527.3 399.8,527.7 408.4,524.6 416.9,522.3 425.5,520.6 434.0,523.7 442.5,523.8 451.1,527.1 459.6,535.9 468.2,531.5 476.7,527.6 485.3,534.7 493.8,540.3 502.4,539.2 510.9,528.7 519.5,528.2 528.0,530.3 536.6,531.5 545.1,524.4 553.6,521.6 562.2,519.2 570.7,519.7 579.3,521.7 587.8,521.7 596.4,524.1 604.9,533.0 613.5,530.1 622.0,529.9 630.6,534.4 639.1,534.5 647.6,534.9 656.2,533.3 664.7,538.5 673.3,541.0 681.8,545.6 690.4,545.9 698.9,536.3 707.5,530.8 716.0,533.4 724.6,537.5 733.1,534.7 741.7,531.8 750.2,523.7 758.7,524.8 767.3,521.5 775.8,520.6 784.4,526.4 792.9,531.3 801.5,533.6 810.0,548.8 818.6,551.7 827.1,546.2 835.7,542.8 844.2,543.1 852.8,537.9 861.3,546.7 869.8,547.3 878.4,537.7 886.9,525.6 895.5,518.0 904.0,516.6 912.6,511.8 921.1,510.8 929.7,511.7 938.2,516.8 946.8,521.9 955.3,528.8 963.9,539.4" fill="none" stroke="#0000ff" stroke-width="1.0" stroke-linejoin="round"/>
<rect x="2" y="506" width="74" height="8.2" fill="#fff"/>
<text x="2" y="514" font-size="10.5" font-weight="normal" fill="#0000ff" text-anchor="start" textLength="73" lengthAdjust="spacingAndGlyphs" stroke="#0000ff" stroke-width="0.4">MACD(3,10,16,C)</text>
<text x="1049" y="514" font-size="11" font-weight="normal" fill="#000" text-anchor="start" textLength="9.5" lengthAdjust="spacingAndGlyphs" stroke="#000" stroke-width="0.35">25</text>
<text x="1049" y="561" font-size="11" font-weight="normal" fill="#000" text-anchor="start" textLength="12" lengthAdjust="spacingAndGlyphs" stroke="#000" stroke-width="0.35">-25</text>
<rect x="1049" y="535.8" width="25" height="11" fill="#ff00ff"/>
<rect x="1049" y="522.4" width="17.5" height="11" fill="#ff0000"/>
<text x="1050" y="532" font-size="10.5" font-weight="normal" fill="#fff" text-anchor="start" textLength="16" lengthAdjust="spacingAndGlyphs" >2.53</text>
<rect x="1049" y="533.3" width="20" height="11" fill="#0000ff"/>
<text x="1050" y="543" font-size="10.5" font-weight="normal" fill="#fff" text-anchor="start" textLength="19" lengthAdjust="spacingAndGlyphs" >-7.81</text>
<text x="1070" y="544" font-size="10" font-weight="normal" fill="#fff" text-anchor="start" textLength="4" lengthAdjust="spacingAndGlyphs" >5</text>
<rect x="2" y="563" width="24" height="1" fill="#d8d8d8"/>
<rect x="26" y="563" width="1022" height="1" fill="#404040"/>
<rect x="2" y="564" width="1046" height="12" fill="#f0f0f0"/>
<rect x="2" y="575" width="1046" height="1" fill="#f0f0f0"/>
<rect x="2" y="565" width="11" height="10.5" fill="#c8c8c8"/>
<rect x="2" y="565" width="11" height="1" fill="#e8e8e8"/>
<rect x="2" y="565" width="1" height="10" fill="#e8e8e8"/>
<rect x="12" y="565" width="1" height="10.5" fill="#909090"/>
<rect x="2" y="574.5" width="11" height="1" fill="#a0a0a0"/>
<polygon points="5,570 8,567 8,573" fill="#000"/>
<rect x="13" y="565" width="11" height="10.5" fill="#c8c8c8"/>
<rect x="13" y="565" width="11" height="1" fill="#e8e8e8"/>
<rect x="13" y="565" width="1" height="10" fill="#e8e8e8"/>
<rect x="23" y="565" width="1" height="10.5" fill="#909090"/>
<rect x="13" y="574.5" width="11" height="1" fill="#a0a0a0"/>
<polygon points="17,567 20,570 17,573" fill="#000"/>
<polygon points="93,564.5 172,564.5 168,575.5 97,575.5" fill="#fafafa" stroke="#303030" stroke-width="1"/>
<text x="99.7" y="573" font-size="9.5" font-weight="normal" fill="#303040" text-anchor="start" textLength="65.5" lengthAdjust="spacingAndGlyphs" >Stochastic(14(1),3)</text>
<polygon points="166.5,564.5 277,564.5 273,575.5 170.5,575.5" fill="#fafafa" stroke="#303030" stroke-width="1"/>
<text x="173.5" y="573" font-size="9.5" font-weight="normal" fill="#303040" text-anchor="start" textLength="97.0" lengthAdjust="spacingAndGlyphs" >Directional Movement(14,14)</text>
<polygon points="272.5,564.5 365,564.5 361,575.5 276.5,575.5" fill="#fafafa" stroke="#303030" stroke-width="1"/>
<text x="278.3" y="573" font-size="9.5" font-weight="normal" fill="#303040" text-anchor="start" textLength="80.7" lengthAdjust="spacingAndGlyphs" >Preferred Stochastic(,,)</text>
<polygon points="360.4,564.5 399.3,564.5 395.3,575.5 364.4,575.5" fill="#fafafa" stroke="#303030" stroke-width="1"/>
<text x="366.5" y="573" font-size="9.5" font-weight="normal" fill="#303040" text-anchor="start" textLength="25.5" lengthAdjust="spacingAndGlyphs" >Volume</text>
<polygon points="25.5,564.5 98.6,564.5 94.6,575.5 29.5,575.5" fill="#ffffff" stroke="#303030" stroke-width="1"/>
<rect x="26.5" y="564" width="71.1" height="1" fill="#ffffff"/>
<text x="32.8" y="573" font-size="9.5" font-weight="normal" fill="#303040" text-anchor="start" textLength="59.4" lengthAdjust="spacingAndGlyphs" >MACD(3,10,16,C)</text>
<text x="23.5" y="586" font-size="11" font-weight="normal" fill="#202020" text-anchor="start" textLength="9.5" lengthAdjust="spacingAndGlyphs" stroke="#202020" stroke-width="0.45">17</text>
<text x="57.5" y="586" font-size="11" font-weight="normal" fill="#202020" text-anchor="start" textLength="9.5" lengthAdjust="spacingAndGlyphs" stroke="#202020" stroke-width="0.45">23</text>
<text x="100.5" y="586" font-size="11" font-weight="normal" fill="#202020" text-anchor="start" textLength="9.5" lengthAdjust="spacingAndGlyphs" stroke="#202020" stroke-width="0.45">02</text>
<text x="142.5" y="586" font-size="11" font-weight="normal" fill="#202020" text-anchor="start" textLength="9.5" lengthAdjust="spacingAndGlyphs" stroke="#202020" stroke-width="0.45">09</text>
<text x="185.5" y="586" font-size="11" font-weight="normal" fill="#202020" text-anchor="start" textLength="9.5" lengthAdjust="spacingAndGlyphs" stroke="#202020" stroke-width="0.45">16</text>
<text x="228.5" y="586" font-size="11" font-weight="normal" fill="#202020" text-anchor="start" textLength="9.5" lengthAdjust="spacingAndGlyphs" stroke="#202020" stroke-width="0.45">23</text>
<text x="271.5" y="586" font-size="11" font-weight="normal" fill="#202020" text-anchor="start" textLength="9.5" lengthAdjust="spacingAndGlyphs" stroke="#202020" stroke-width="0.45">30</text>
<text x="305.5" y="586" font-size="11" font-weight="normal" fill="#202020" text-anchor="start" textLength="9.5" lengthAdjust="spacingAndGlyphs" stroke="#202020" stroke-width="0.45">06</text>
<text x="348.5" y="586" font-size="11" font-weight="normal" fill="#202020" text-anchor="start" textLength="9.5" lengthAdjust="spacingAndGlyphs" stroke="#202020" stroke-width="0.45">13</text>
<text x="390.5" y="586" font-size="11" font-weight="normal" fill="#202020" text-anchor="start" textLength="9.5" lengthAdjust="spacingAndGlyphs" stroke="#202020" stroke-width="0.45">20</text>
<text x="433.5" y="586" font-size="11" font-weight="normal" fill="#202020" text-anchor="start" textLength="9.5" lengthAdjust="spacingAndGlyphs" stroke="#202020" stroke-width="0.45">27</text>
<text x="476.5" y="586" font-size="11" font-weight="normal" fill="#202020" text-anchor="start" textLength="9.5" lengthAdjust="spacingAndGlyphs" stroke="#202020" stroke-width="0.45">04</text>
<text x="518.5" y="586" font-size="11" font-weight="normal" fill="#202020" text-anchor="start" textLength="9.5" lengthAdjust="spacingAndGlyphs" stroke="#202020" stroke-width="0.45">11</text>
<text x="561.5" y="586" font-size="11" font-weight="normal" fill="#202020" text-anchor="start" textLength="9.5" lengthAdjust="spacingAndGlyphs" stroke="#202020" stroke-width="0.45">18</text>
<text x="638.5" y="586" font-size="11" font-weight="normal" fill="#202020" text-anchor="start" textLength="9.5" lengthAdjust="spacingAndGlyphs" stroke="#202020" stroke-width="0.45">01</text>
<text x="681.5" y="586" font-size="11" font-weight="normal" fill="#202020" text-anchor="start" textLength="9.5" lengthAdjust="spacingAndGlyphs" stroke="#202020" stroke-width="0.45">08</text>
<text x="724.5" y="586" font-size="11" font-weight="normal" fill="#202020" text-anchor="start" textLength="9.5" lengthAdjust="spacingAndGlyphs" stroke="#202020" stroke-width="0.45">15</text>
<text x="766.5" y="586" font-size="11" font-weight="normal" fill="#202020" text-anchor="start" textLength="9.5" lengthAdjust="spacingAndGlyphs" stroke="#202020" stroke-width="0.45">22</text>
<text x="809.5" y="586" font-size="11" font-weight="normal" fill="#202020" text-anchor="start" textLength="9.5" lengthAdjust="spacingAndGlyphs" stroke="#202020" stroke-width="0.45">29</text>
<text x="843.5" y="586" font-size="11" font-weight="normal" fill="#202020" text-anchor="start" textLength="9.5" lengthAdjust="spacingAndGlyphs" stroke="#202020" stroke-width="0.45">06</text>
<text x="886.5" y="586" font-size="11" font-weight="normal" fill="#202020" text-anchor="start" textLength="9.5" lengthAdjust="spacingAndGlyphs" stroke="#202020" stroke-width="0.45">13</text>
<text x="929.5" y="586" font-size="11" font-weight="normal" fill="#202020" text-anchor="start" textLength="9.5" lengthAdjust="spacingAndGlyphs" stroke="#202020" stroke-width="0.45">20</text>
<text x="100" y="597.5" font-size="11" font-weight="bold" fill="#202020" text-anchor="start" textLength="17" lengthAdjust="spacingAndGlyphs" >Mar</text>
<text x="288" y="597.5" font-size="11" font-weight="bold" fill="#202020" text-anchor="start" textLength="17" lengthAdjust="spacingAndGlyphs" >Apr</text>
<text x="467" y="597.5" font-size="11" font-weight="bold" fill="#202020" text-anchor="start" textLength="17" lengthAdjust="spacingAndGlyphs" >May</text>
<text x="638" y="597.5" font-size="11" font-weight="bold" fill="#202020" text-anchor="start" textLength="17" lengthAdjust="spacingAndGlyphs" >Jun</text>
<text x="826" y="597.5" font-size="11" font-weight="bold" fill="#202020" text-anchor="start" textLength="17" lengthAdjust="spacingAndGlyphs" >Jul</text>
<rect x="600" y="576.5" width="43" height="11.5" fill="#ff6a22"/>
<text x="604" y="586" font-size="10.5" font-weight="normal" fill="#ffffff" text-anchor="start" textLength="35.5" lengthAdjust="spacingAndGlyphs" >05/28/15</text>
<rect x="0" y="599" width="1100" height="1" fill="#f4f4f4"/>
<rect x="0" y="600" width="1100" height="1" fill="#404040"/>
<rect x="0" y="601" width="1100" height="9" fill="#e8e8e8"/>
<rect x="0" y="601" width="1100" height="1" fill="#f8f8f8"/>
<text x="1096" y="607.8" font-size="8.5" font-weight="normal" fill="#202020" text-anchor="end" textLength="120" lengthAdjust="spacingAndGlyphs" stroke="#202020" stroke-width="0.25">Published by eSignal (www.esignal.com)</text>
<rect x="2" y="2" width="1" height="15" fill="#b0b0b0"/>
<rect x="6" y="2" width="15" height="15" fill="#fafafa"/>
<rect x="6" y="2" width="15" height="1" fill="#a0a0a0"/>
<rect x="6" y="2" width="1" height="14" fill="#a0a0a0"/>
<rect x="3" y="2" width="1" height="15" fill="#ffffff"/>
<rect x="8.5" y="4.5" width="12" height="4.5" rx="0.8" fill="#00ff00" stroke="#006000" stroke-width="1"/>
<ellipse cx="11.8" cy="12.4" rx="2.6" ry="2" fill="#c8c000" stroke="#404000" stroke-width="0.8"/>
<ellipse cx="17.6" cy="12.4" rx="2.6" ry="2" fill="#c8c000" stroke="#404000" stroke-width="0.8"/>
<rect x="13.5" y="11.6" width="2.5" height="1.6" fill="#c8c000"/>
<ellipse cx="11.8" cy="12.4" rx="0.9" ry="0.6" fill="#303000"/>
<ellipse cx="17.6" cy="12.4" rx="0.9" ry="0.6" fill="#303000"/>
<rect x="25.5" y="5.5" width="8" height="8" fill="#c8c8c8" stroke="#505050" stroke-width="1"/>
<rect x="27" y="7" width="5" height="5" fill="#ffffff"/>
<path d="M28 7h2v2h2v1h-2v2h-2v-2h-1v-1h1z" fill="#000"/>
<rect x="40.5" y="4.5" width="7" height="8" fill="#e8e8e8" stroke="#606060" stroke-width="1"/>
<rect x="42.5" y="6.5" width="8" height="8" fill="#ffffff" stroke="#202020" stroke-width="1"/>
<path d="M45 7h2v3h2v2h-2v2h-2v-2h-1v-2h1z" fill="#000"/>
<rect x="55.5" y="7.5" width="8" height="7" fill="#d8d8d8" stroke="#303030" stroke-width="1"/>
<path d="M57 9h2v5h-2zM60 10h2v4h-2z" fill="#303030"/>
<path d="M59.5 5.5h5v3" fill="none" stroke="#606060" stroke-width="1"/>
<rect x="65" y="5" width="2" height="4" fill="#000090"/>
<path d="M73 10h8M77 6v8" stroke="#000" stroke-width="2"/>
<path d="M88.5 6.5h4l1 1h6v6h-11z" fill="#f8f088" stroke="#808060" stroke-width="1"/>
<text x="104" y="13" font-size="9.5" font-weight="normal" fill="#303048" text-anchor="start" textLength="30" lengthAdjust="spacingAndGlyphs" >Equities</text>
<polygon points="138,9 142,9 140,11" fill="#000"/>
<path d="M149.5 6.5h4l1 1h6v6h-11z" fill="#f8f088" stroke="#808060" stroke-width="1"/>
<text x="165" y="13" font-size="9.5" font-weight="normal" fill="#303048" text-anchor="start" textLength="58" lengthAdjust="spacingAndGlyphs" >Other Intervals</text>
<polygon points="227,9 231,9 229,11" fill="#000"/>
<circle cx="242" cy="9.1" r="4.9" fill="#f4f4f4" stroke="#303030" stroke-width="0.9"/>
<path d="M241.8 6.4h2.6M243.1 6.4v5.4M241.8 11.8h2.6" stroke="#202020" stroke-width="1" fill="none"/>
<path d="M241.2 6.8l-2 2.2l2 2.6" stroke="#505050" stroke-width="0.9" fill="none"/>
<text x="252.3" y="13" font-size="9.5" font-weight="normal" fill="#303048" text-anchor="start" textLength="14" lengthAdjust="spacingAndGlyphs" >120</text>
<circle cx="279" cy="9.1" r="4.9" fill="#f4f4f4" stroke="#303030" stroke-width="0.9"/>
<path d="M277.2 6.4h3.6M279 6.4v5.4M277.2 11.8h3.6" stroke="#202020" stroke-width="1" fill="none"/>
<text x="289" y="13" font-size="9.5" font-weight="normal" fill="#303048" text-anchor="start" textLength="4" lengthAdjust="spacingAndGlyphs" >1</text>
<circle cx="306" cy="9.1" r="4.9" fill="#f4f4f4" stroke="#303030" stroke-width="0.9"/>
<path d="M304.2 6.4h3.6M306 6.4v5.4M304.2 11.8h3.6" stroke="#202020" stroke-width="1" fill="none"/>
<text x="316" y="13" font-size="9.5" font-weight="normal" fill="#303048" text-anchor="start" textLength="5" lengthAdjust="spacingAndGlyphs" >5</text>
<circle cx="333" cy="9.1" r="4.9" fill="#f4f4f4" stroke="#303030" stroke-width="0.9"/>
<path d="M331.2 6.4h3.6M333 6.4v5.4M331.2 11.8h3.6" stroke="#202020" stroke-width="1" fill="none"/>
<text x="343" y="13" font-size="9.5" font-weight="normal" fill="#303048" text-anchor="start" textLength="10" lengthAdjust="spacingAndGlyphs" >60</text>
<circle cx="365" cy="9.1" r="4.9" fill="#f4f4f4" stroke="#303030" stroke-width="0.9"/>
<path d="M363.2 6.4h3.6M365 6.4v5.4M363.2 11.8h3.6" stroke="#202020" stroke-width="1" fill="none"/>
<text x="376" y="13" font-size="9.5" font-weight="normal" fill="#303048" text-anchor="start" textLength="17" lengthAdjust="spacingAndGlyphs" >Daily</text>
<circle cx="404.5" cy="9.1" r="4.9" fill="#f4f4f4" stroke="#303030" stroke-width="0.9"/>
<path d="M402.7 6.4h3.6M404.5 6.4v5.4M402.7 11.8h3.6" stroke="#202020" stroke-width="1" fill="none"/>
<text x="415" y="13" font-size="9.5" font-weight="normal" fill="#303048" text-anchor="start" textLength="15" lengthAdjust="spacingAndGlyphs" >Tick</text>
</svg>
</body></html>
